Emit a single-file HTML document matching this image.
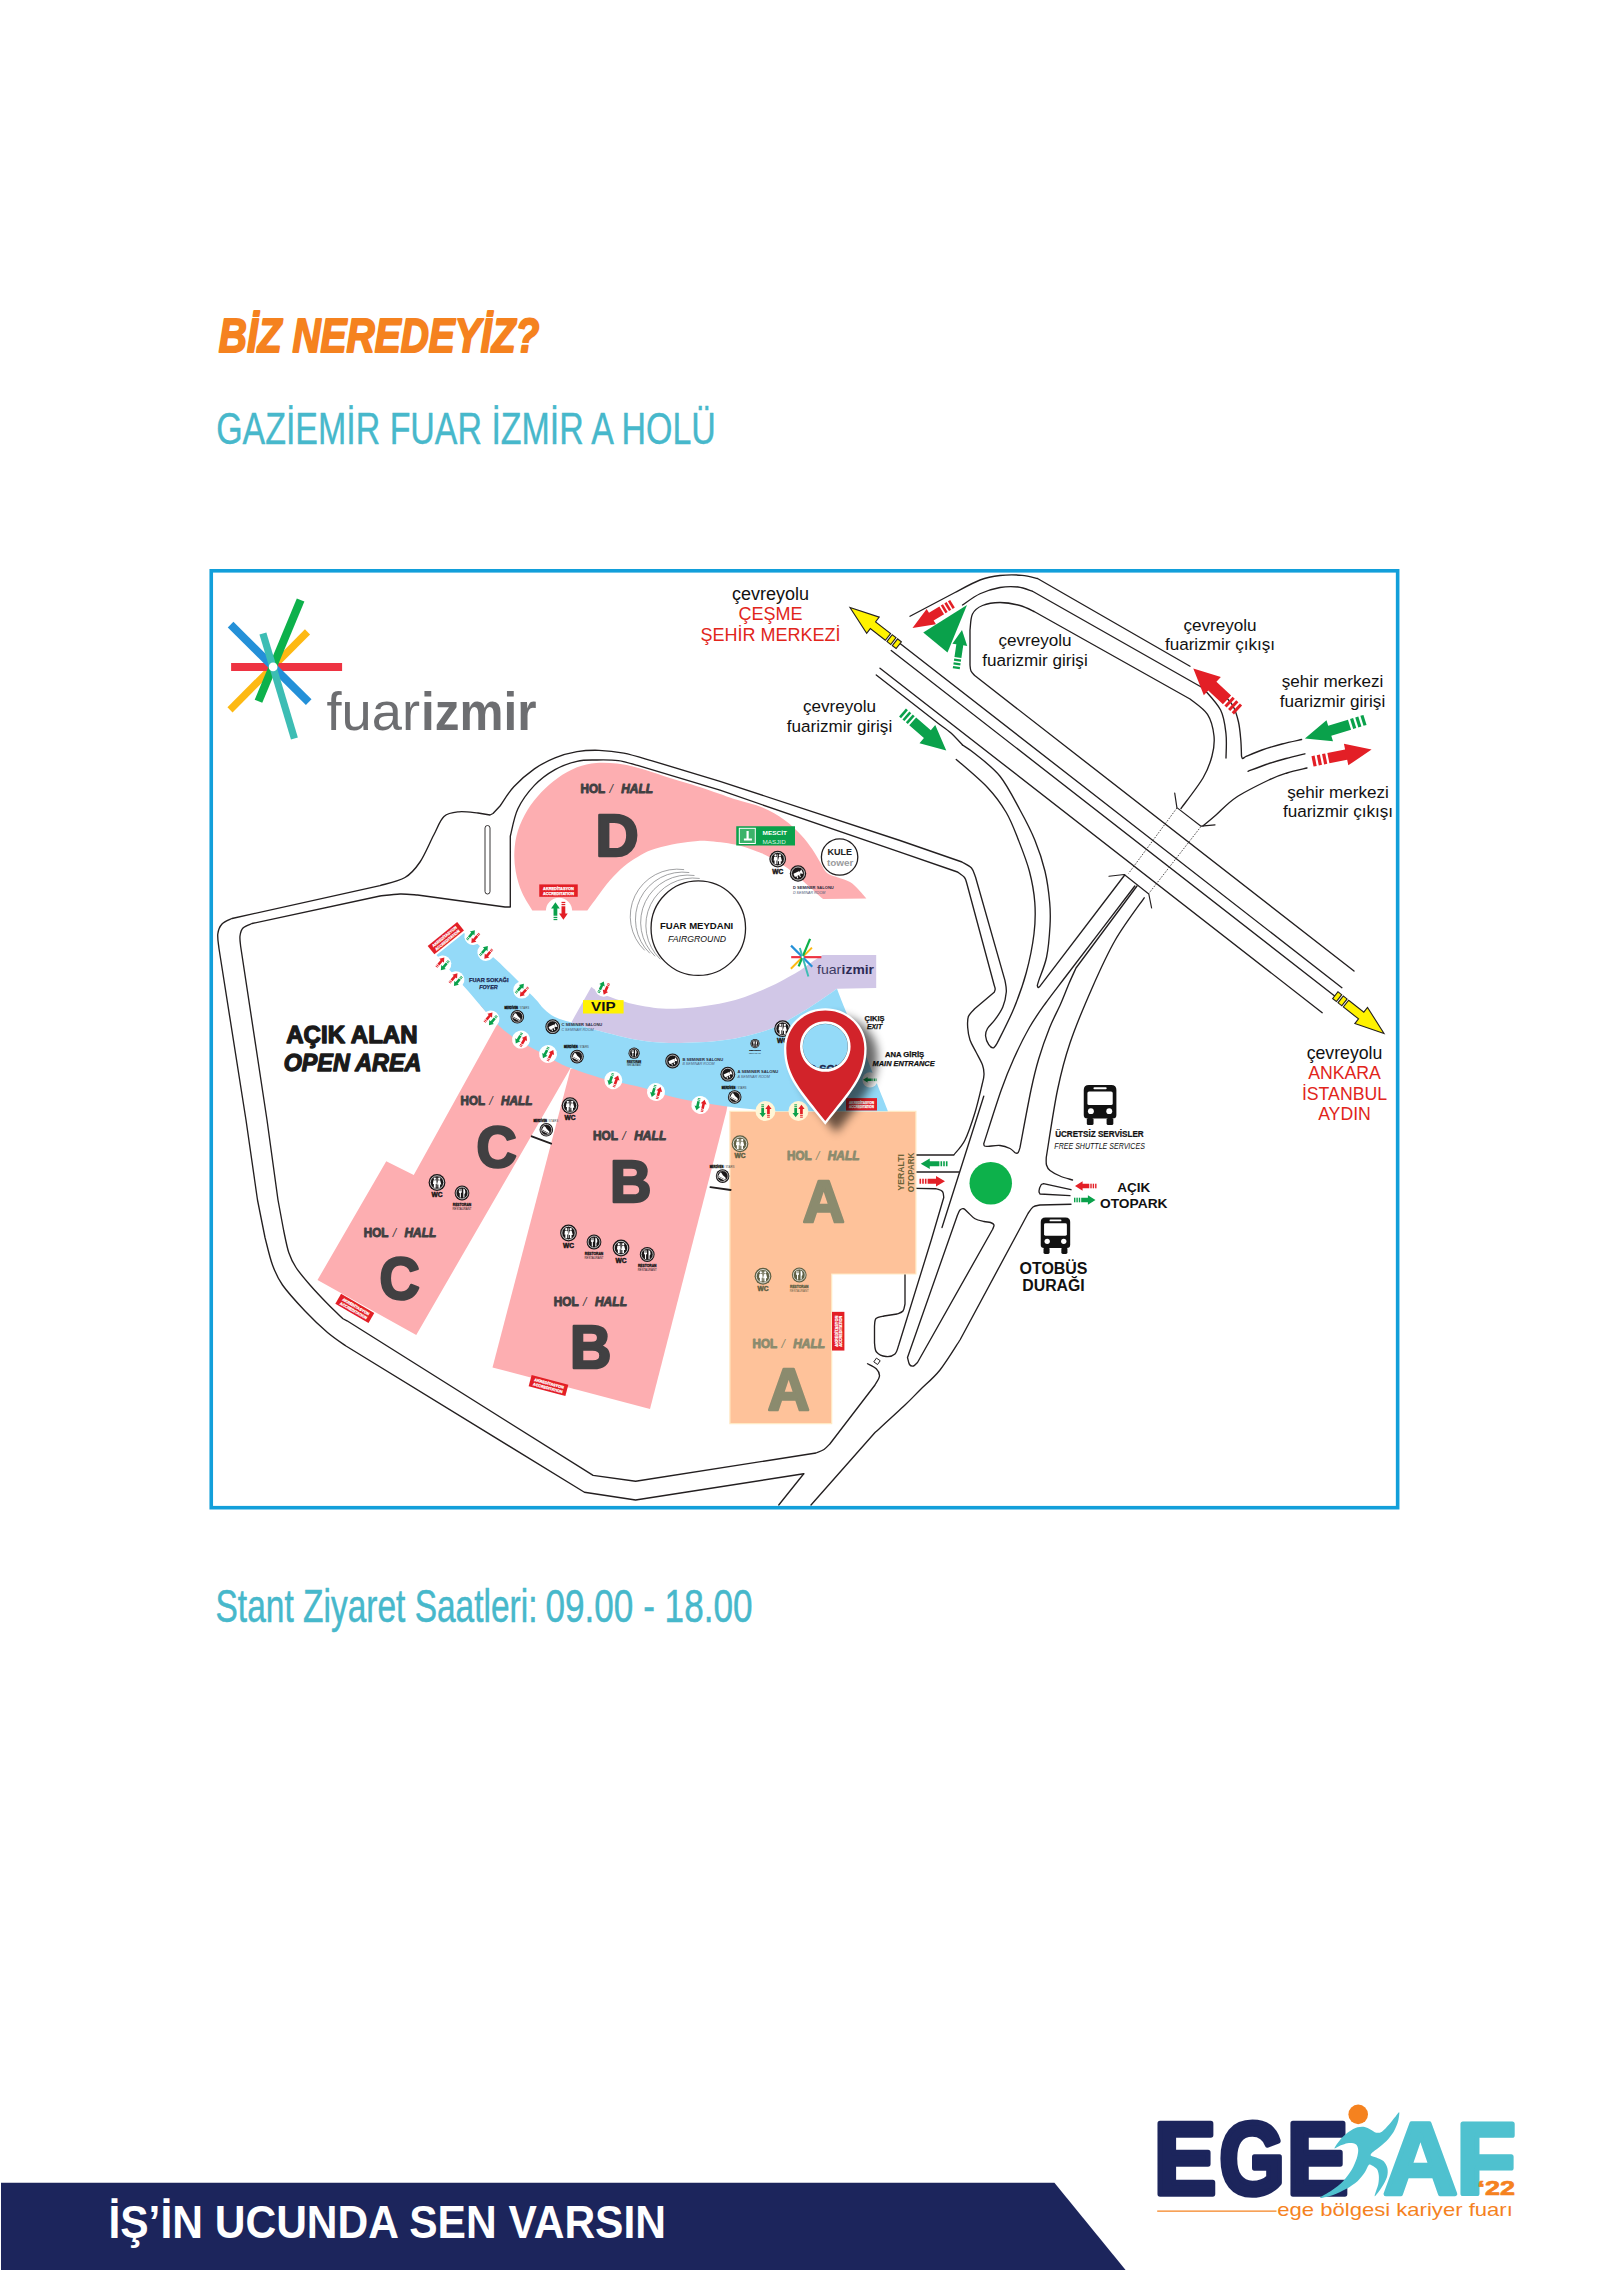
<!DOCTYPE html>
<html lang="tr"><head><meta charset="utf-8"><title>Biz Neredeyiz? - EGEKAF'22</title>
<style>
html,body{margin:0;padding:0;background:#fff;}
body{width:1600px;height:2270px;overflow:hidden;position:relative;font-family:"Liberation Sans",sans-serif;}
svg{position:absolute;left:0;top:0;display:block;}
svg text{font-family:"Liberation Sans",sans-serif;}
</style></head><body>
<svg width="1600" height="2270" viewBox="0 0 1600 2270">
<rect x="0" y="0" width="1600" height="2270" fill="#fff"/>
<text x="218.8" y="352.4" font-size="47.5" fill="#f5821f" font-weight="bold" font-style="italic" textLength="320.5" lengthAdjust="spacingAndGlyphs" stroke="#f5821f" stroke-width="2" stroke-linejoin="round">BİZ NEREDEYİZ?</text>
<text x="216.2" y="444.4" font-size="43.6" fill="#47b8cb" textLength="499.6" lengthAdjust="spacingAndGlyphs" stroke="#47b8cb" stroke-width="0.4" stroke-linejoin="round">GAZİEMİR FUAR İZMİR A HOLÜ</text>
<text x="215.5" y="1622.2" font-size="45.6" fill="#47b8cb" textLength="322" lengthAdjust="spacingAndGlyphs" stroke="#47b8cb" stroke-width="0.5" stroke-linejoin="round">Stant Ziyaret Saatleri:</text>
<text x="545.5" y="1622.2" font-size="45.6" fill="#47b8cb" textLength="207" lengthAdjust="spacingAndGlyphs" stroke="#47b8cb" stroke-width="0.5" stroke-linejoin="round">09.00 - 18.00</text>
<path d="M1 2182.8 L1054.4 2182.8 L1125.6 2270 L1 2270 Z" fill="#1c255c"/>
<text x="108.4" y="2237.5" font-size="45.8" fill="#fff" font-weight="bold" textLength="557.6" lengthAdjust="spacingAndGlyphs">İŞ’İN UCUNDA SEN VARSIN</text>
<g id="egekaf">
<text x="1153.72" y="2194.2" font-size="102.47" fill="#1c255c" font-weight="bold" textLength="62.65" lengthAdjust="spacingAndGlyphs" stroke="#1c255c" stroke-width="5.6" stroke-linejoin="round">E</text>
<text x="1219.14" y="2194.2" font-size="102.4" fill="#1c255c" font-weight="bold" textLength="65.59" lengthAdjust="spacingAndGlyphs" stroke="#1c255c" stroke-width="5.6" stroke-linejoin="round">G</text>
<text x="1286.81" y="2194.2" font-size="102.47" fill="#1c255c" font-weight="bold" textLength="61.7" lengthAdjust="spacingAndGlyphs" stroke="#1c255c" stroke-width="5.6" stroke-linejoin="round">E</text>
<text x="1383.18" y="2193.75" font-size="102.04" fill="#4fc1cf" font-weight="bold" textLength="74.49" lengthAdjust="spacingAndGlyphs" stroke="#4fc1cf" stroke-width="4.5" stroke-linejoin="round">A</text>
<text x="1456.61" y="2193.4" font-size="101.02" fill="#4fc1cf" font-weight="bold" textLength="59.24" lengthAdjust="spacingAndGlyphs" stroke="#4fc1cf" stroke-width="5.2" stroke-linejoin="round">F</text>
<path d="M1334.5 2148.2 C1334.61 2147.12 1339.54 2140.57 1341.7 2138.1 C1343.86 2135.62 1346.53 2133.32 1348.9 2131.7 C1351.27 2130.08 1355.13 2128.02 1357.5 2127.3 C1359.87 2126.58 1362.77 2126.57 1364.7 2126.9 C1366.63 2127.23 1368.68 2128.63 1370.4 2129.5 C1372.12 2130.37 1374.48 2132.37 1376.2 2132.7 C1377.92 2133.03 1379.97 2132.93 1381.9 2131.7 C1383.84 2130.47 1387.15 2126.66 1389.1 2124.5 C1391.05 2122.34 1393.38 2119.15 1394.9 2117.3 C1396.42 2115.45 1398.74 2111.55 1399.2 2112.2 C1399.66 2112.84 1398.83 2118.67 1398 2121.6 C1397.17 2124.53 1395.42 2128.79 1393.7 2131.7 C1391.98 2134.61 1388.81 2138.57 1386.5 2141 C1384.19 2143.43 1380.38 2146.22 1378.3 2147.9 C1376.21 2149.58 1373.74 2151.07 1372.6 2152.2 C1371.46 2153.32 1370.16 2154.61 1370.7 2155.4 C1371.24 2156.2 1374.3 2156.64 1376.2 2157.5 C1378.11 2158.36 1381.72 2159.48 1383.4 2161.1 C1385.08 2162.72 1386.86 2165.93 1387.4 2168.3 C1387.94 2170.67 1387.83 2174.1 1387 2176.9 C1386.17 2179.7 1383.75 2184.09 1381.9 2187 C1380.06 2189.91 1375.24 2196.74 1374.7 2196.3 C1374.16 2195.87 1377.68 2187.22 1378.3 2184.1 C1378.91 2180.98 1379.01 2177.76 1378.8 2175.5 C1378.59 2173.24 1377.94 2170.51 1376.9 2169 C1375.87 2167.49 1373.13 2166 1371.9 2165.4 C1370.67 2164.8 1369.78 2163.92 1368.7 2165 C1367.62 2166.08 1366.38 2170.17 1364.7 2172.6 C1363.02 2175.03 1360.31 2178.72 1357.5 2181.2 C1354.69 2183.67 1349.66 2187.05 1346 2189.1 C1342.34 2191.15 1336.98 2193.6 1333.1 2194.9 C1329.21 2196.2 1320.32 2198.45 1320.1 2197.8 C1319.88 2197.16 1328.15 2193.09 1331.6 2190.6 C1335.05 2188.11 1340.08 2184.34 1343.1 2181.2 C1346.12 2178.06 1349.64 2173.15 1351.7 2169.7 C1353.76 2166.25 1355.83 2161.11 1356.8 2158.2 C1357.77 2155.29 1358.2 2152.24 1358.2 2150.3 C1358.2 2148.37 1357.55 2146.37 1356.8 2145.3 C1356.05 2144.24 1354.61 2143.51 1353.2 2143.2 C1351.79 2142.88 1349.23 2142.88 1347.4 2143.2 C1345.57 2143.51 1342.93 2144.55 1341 2145.3 C1339.07 2146.05 1334.39 2149.28 1334.5 2148.2 Z" fill="#4fc1cf"/>
<circle cx="1358.2" cy="2114.4" r="9.8" fill="#f5821f"/>
<text x="1477.6" y="2195.2" font-size="20.4" fill="#f5821f" font-weight="bold" textLength="37.5" lengthAdjust="spacingAndGlyphs" stroke="#f5821f" stroke-width="0.7" stroke-linejoin="round">‘22</text>
<path d="M1157.2 2211.1 H1276.5" stroke="#f5821f" stroke-width="1.2" fill="none"/>
<text x="1277.3" y="2215.7" font-size="17.8" fill="#f5821f" textLength="235.5" lengthAdjust="spacingAndGlyphs">ege bölgesi kariyer fuarı</text>
</g>
<g id="map">
<g id="roads">
<path d="M803.75 1473.75 L635.6 1500 L584.4 1492.25 L346 1346 L346 1346 C342.92 1343.75 334.33 1338.33 327.5 1332.5 C320.67 1326.67 312.5 1318.92 305 1311 C297.5 1303.08 287.92 1292.67 282.5 1285 C277.08 1277.33 275.42 1272.92 272.5 1265 C269.58 1257.08 266.25 1242.08 265 1237.5 L265 1237.5 L257.5 1200 L246 1120 L218.9 948 L218.9 948 C218.72 945.67 217.28 938 217.8 934 C218.32 930 219.63 926.58 222 924 C224.37 921.42 230.33 919.42 232 918.5 L232 918.5 L380 885.6 L380 885.6 C384.17 884.25 398.33 881.43 405 877.5 C411.67 873.57 415.21 869.08 420 862 C424.79 854.92 429.75 842.58 433.75 835 C437.75 827.42 439.79 820.37 444 816.5 C448.21 812.63 453.33 812.38 459 811.8 C464.67 811.22 474.83 812.8 478 813 L478 813 L490 815 L493 813.5 L500 806 L500 806 C502.3 802.8 508.07 792.98 513.8 786.8 C519.53 780.62 527.53 773.72 534.4 768.9 C541.27 764.08 547.9 760.77 555 757.9 C562.1 755.03 569.67 752.97 577 751.7 C584.33 750.43 591.2 750.07 599 750.3 C606.8 750.53 615.08 751.38 623.8 753.1 C632.52 754.82 646.72 759.35 651.3 760.6 L651.3 760.6 L720 781.3 L900 840.5 L962 862 L962 862 C963.58 863 969.25 865.5 971.5 868 C973.75 870.5 974.83 875.5 975.5 877 L975.5 877 L1005 980.6 L1005 980.6 C1005.22 982.5 1006.67 987.6 1006.3 992 C1005.93 996.4 1004.68 1002.38 1002.8 1007 C1000.92 1011.62 997.55 1016.12 995 1019.7 C992.45 1023.28 989.07 1025.78 987.5 1028.5 C985.93 1031.22 985.39 1033.3 985.6 1036 C985.81 1038.7 987.45 1042.73 988.75 1044.7 C990.05 1046.67 991.98 1048.08 993.4 1047.8 C994.82 1047.52 996.65 1043.8 997.3 1043 L997.3 1043 C1000.04 1037.29 1008.92 1020.45 1013.75 1008.75 C1018.58 997.05 1022.88 985.3 1026.25 972.8 C1029.62 960.3 1032.58 945.47 1034 933.75 C1035.42 922.03 1035.57 912.92 1034.8 902.5 C1034.03 892.08 1032.13 881.67 1029.4 871.25 C1026.67 860.83 1022.26 849.79 1018.4 840 C1014.54 830.21 1011.4 821.25 1006.25 812.5 C1001.1 803.75 995.83 796.35 987.5 787.5 C979.17 778.65 961.46 764.08 956.25 759.4" fill="none" stroke="#231f20" stroke-width="1.35" stroke-linejoin="round" stroke-linecap="round" />
<path d="M803.75 1473.75 L778.75 1505" fill="none" stroke="#231f20" stroke-width="1.35" stroke-linejoin="round" stroke-linecap="round" />
<path d="M916.25 1155 L953.75 1155 L953.75 1155 C955.62 1152.5 961.46 1147.08 965 1140 C968.54 1132.92 972.17 1121.67 975 1112.5 C977.83 1103.33 980.5 1091.35 982 1085 C983.5 1078.65 983.92 1077.73 984 1074.4 C984.08 1071.07 983.83 1068.73 982.5 1065 C981.17 1061.27 978.08 1056.17 976 1052 C973.92 1047.83 971.38 1044.08 970 1040 C968.62 1035.92 967.97 1031.42 967.7 1027.5 C967.43 1023.58 967.23 1019.62 968.4 1016.5 C969.57 1013.38 973.65 1010.04 974.7 1008.75 L974.7 1008.75 L994.2 992.3 L994.2 992.3 C994.37 991.75 995.2 990.17 995.2 989 C995.2 987.83 994.37 985.92 994.2 985.3 L994.2 985.3 L966.9 883.75 L966.9 883.75 C966.5 882.71 966.07 879.46 964.5 877.5 C962.93 875.54 958.67 872.92 957.5 872 L957.5 872 L900 852.2 L720 790.2 L637.6 765.4 L637.6 765.4 C634.38 764.6 625.18 761.5 618.3 760.6 C611.42 759.7 603.18 759.88 596.3 760 C589.42 760.12 583.88 759.7 577 761.3 C570.12 762.9 562.1 765.58 555 769.6 C547.9 773.62 540.58 778.87 534.4 785.4 C528.22 791.93 521.92 800.32 517.9 808.8 C513.88 817.28 511.57 831.72 510.3 836.3 L510.3 836.3 L510.3 907 L505 907 L417.5 895 L417.5 895 C414.58 894.83 406.25 893.83 400 894 C393.75 894.17 383.33 895.67 380 896 L380 896 L252 923.5 L252 923.5 C250.5 924.25 245 925.92 243 928 C241 930.08 240.4 933 240 936 C239.6 939 240.5 944.33 240.6 946 L240.6 946 L267 1120 L278 1200 L283.75 1231 L283.75 1231 C284.58 1234.58 286.71 1246.42 288.75 1252.5 C290.79 1258.58 292.46 1262.08 296 1267.5 C299.54 1272.92 304.75 1278.96 310 1285 C315.25 1291.04 322 1298.12 327.5 1303.75 C333 1309.38 340.42 1316.25 343 1318.75 L343 1318.75 L347 1320.8 L593.1 1475.4 L635.6 1481.25 L816 1453 L816 1453 C817.33 1452.42 821.67 1451.04 824 1449.5 C826.33 1447.96 829 1444.71 830 1443.75 L830 1443.75 L875 1385 L875 1385 C875.75 1383.5 879.29 1378.71 879.5 1376 C879.71 1373.29 878.25 1370.79 876.25 1368.75 C874.25 1366.71 868.96 1364.58 867.5 1363.75" fill="none" stroke="#231f20" stroke-width="1.35" stroke-linejoin="round" stroke-linecap="round" />
<rect x="485" y="825.5" width="5" height="68.5" rx="2.5" fill="none" stroke="#231f20" stroke-width="0.9"/>
<rect x="-2.3" y="-2.3" width="4.6" height="4.6" transform="translate(877 1361.3) rotate(35)" fill="none" stroke="#231f20" stroke-width="0.9"/>
<path d="M916.25 1172 L958.75 1172" fill="none" stroke="#231f20" stroke-width="1.35" stroke-linejoin="round" stroke-linecap="round" />
<path d="M916.25 1188.3 L936.25 1188.75 L936.25 1188.75 C937.29 1189.21 941.25 1190.04 942.5 1191.5 C943.75 1192.96 943.54 1196.5 943.75 1197.5 L943.75 1197.5 L931.25 1240 L898.75 1345 L898.75 1345 C898.12 1346.5 897.12 1352.08 895 1354 C892.88 1355.92 889.08 1356.83 886 1356.5 C882.92 1356.17 878.42 1354.25 876.5 1352 C874.58 1349.75 874.83 1344.5 874.5 1343 L874.5 1343 L874.5 1326 L874.5 1326 C874.75 1324.75 874.42 1320.17 876 1318.5 C877.58 1316.83 882.67 1316.42 884 1316 L884 1316 L897 1314 L897 1314 C898 1313.5 901.67 1312.67 903 1311 C904.33 1309.33 904.67 1305.17 905 1304 L905 1304 L905 1273.5" fill="none" stroke="#231f20" stroke-width="1.35" stroke-linejoin="round" stroke-linecap="round" />
<path d="M983.75 1096.25 L942 1227.5" fill="none" stroke="#231f20" stroke-width="1.35" stroke-linejoin="round" stroke-linecap="round" />
<path d="M957.5 1215 C957.92 1214.17 958.96 1211.04 960 1210 C961.04 1208.96 962.42 1208.33 963.75 1208.75 C965.08 1209.17 966.12 1210.83 968 1212.5 C969.88 1214.17 972.33 1217.25 975 1218.75 C977.67 1220.25 981.42 1220.88 984 1221.5 C986.58 1222.12 988.83 1221.92 990.5 1222.5 C992.17 1223.08 993.67 1223.83 994 1225 C994.33 1226.17 992.75 1228.75 992.5 1229.5 L992.5 1229.5 L917.5 1362.5 L917.5 1362.5 C916.83 1363.08 914.83 1365.67 913.5 1366 C912.17 1366.33 910.5 1365.92 909.5 1364.5 C908.5 1363.08 907.83 1358.67 907.5 1357.5 L907.5 1357.5 L957.5 1215" fill="none" stroke="#231f20" stroke-width="1.35" stroke-linejoin="round" stroke-linecap="round" />
<path d="M1134.8 886 C1123.73 900.5 1083.37 953.33 1068.4 973 C1053.43 992.67 1051.5 994.92 1045 1004 C1038.5 1013.08 1034.61 1018.38 1029.4 1027.5 C1024.19 1036.62 1018.44 1048.33 1013.75 1058.75 C1009.06 1069.17 1006.25 1075.83 1001.25 1090 C996.25 1104.17 986.67 1134.79 983.75 1143.75 L983.75 1143.75 C983.88 1144.12 983.79 1145.58 984.5 1146 C985.21 1146.42 985.42 1146.38 988 1146.3 C990.58 1146.22 996.33 1145.13 1000 1145.5 C1003.67 1145.87 1007.42 1147.25 1010 1148.5 C1012.58 1149.75 1014.13 1152.33 1015.5 1153 C1016.87 1153.67 1017.45 1153.42 1018.2 1152.5 C1018.95 1151.58 1019.7 1148.33 1020 1147.5 L1020 1147.5 C1021.83 1137.92 1027.88 1104.79 1031 1090 C1034.12 1075.21 1035.63 1069.17 1038.75 1058.75 C1041.87 1048.33 1046.06 1036.62 1049.7 1027.5 C1053.34 1018.38 1057.38 1011.33 1060.6 1004 C1063.82 996.67 1066.43 989.5 1069 983.5 C1071.57 977.5 1074.83 970.58 1076 968 L1076 968 L1137 886" fill="none" stroke="#231f20" stroke-width="1.35" stroke-linejoin="round" stroke-linecap="round" />
<path d="M1144.2 897.8 C1139.38 904.83 1124.02 924.9 1115.3 940 C1106.58 955.1 1099.45 971.23 1091.9 988.4 C1084.35 1005.57 1075.73 1026.07 1070 1043 C1064.27 1059.93 1061.46 1070.92 1057.5 1090 C1053.54 1109.08 1048.12 1146.25 1046.25 1157.5 L1046.25 1157.5 C1046.29 1158.75 1045.88 1162.83 1046.5 1165 C1047.12 1167.17 1047.75 1168.67 1050 1170.5 C1052.25 1172.33 1056.25 1174.42 1060 1176 C1063.75 1177.58 1070.42 1179.33 1072.5 1180" fill="none" stroke="#231f20" stroke-width="1.35" stroke-linejoin="round" stroke-linecap="round" />
<path d="M1071 1189.7 L1043.5 1183.7 L1043.5 1183.7 C1043.08 1183.92 1041.75 1183.78 1041 1185 C1040.25 1186.22 1039.17 1189.5 1039 1191 C1038.83 1192.5 1039.83 1193.5 1040 1194 L1040 1194 L1070 1195.6" fill="none" stroke="#231f20" stroke-width="1.35" stroke-linejoin="round" stroke-linecap="round" />
<path d="M1071 1204.25 L1040 1205 L1040 1205 C1038.83 1205.33 1035 1205.58 1033 1207 C1031 1208.42 1028.83 1212.42 1028 1213.5 L1028 1213.5 L960 1340 L960 1340 C956.67 1345 946.67 1361.67 940 1370 C933.33 1378.33 925.83 1384.17 920 1390 C914.17 1395.83 912.5 1397.92 905 1405 C897.5 1412.08 880 1427.92 875 1432.5 L875 1432.5 L811 1505" fill="none" stroke="#231f20" stroke-width="1.35" stroke-linejoin="round" stroke-linecap="round" />
<path d="M962.5 745 C964.58 746.46 968.75 748.54 975 753.75 C981.25 758.96 992.5 766.88 1000 776.25 C1007.5 785.62 1014.2 799.38 1020 810 C1025.8 820.62 1030.63 829.79 1034.8 840 C1038.97 850.21 1042.52 860.83 1045 871.25 C1047.48 881.67 1048.87 893.38 1049.7 902.5 C1050.53 911.62 1050.52 916.92 1050 926 C1049.48 935.08 1048.47 947.9 1046.6 957 C1044.72 966.1 1040.3 975.85 1038.75 980.6 C1037.2 985.35 1037.54 984.68 1037.3 985.5 L1037.3 985.5 C1037.45 985.85 1037.75 987.48 1038.2 987.6 C1038.65 987.72 1039.7 986.43 1040 986.2 L1040 986.2 L1124.7 875" fill="none" stroke="#231f20" stroke-width="1.35" stroke-linejoin="round" stroke-linecap="round" />
<path d="M898.75 642.5 L1341.9 987.71" fill="none" stroke="#231f20" stroke-width="1.35" stroke-linejoin="round" stroke-linecap="round" />
<path d="M891.25 650.5 L1335.3 996.41" fill="none" stroke="#231f20" stroke-width="1.35" stroke-linejoin="round" stroke-linecap="round" />
<path d="M880 668.2 L1322.2 1012.67" fill="none" stroke="#231f20" stroke-width="1.35" stroke-linejoin="round" stroke-linecap="round" />
<path d="M876.25 675 L940 724.7 L940 724.7 C941.83 726.08 947.25 729.62 951 733 C954.75 736.38 960.58 743 962.5 745" fill="none" stroke="#231f20" stroke-width="1.35" stroke-linejoin="round" stroke-linecap="round" />
<path d="M1354 971 L975 675.8 L975 675.8 C974.33 675 971.83 672.8 971 671 C970.17 669.2 970.17 666 970 665 L970 665 L970 630 L970 630 C970.42 627.33 970.42 618.08 972.5 614 C974.58 609.92 977.92 607.42 982.5 605.5 C987.08 603.58 993.75 602.5 1000 602.5 C1006.25 602.5 1014.17 603.92 1020 605.5 C1025.83 607.08 1032.5 610.92 1035 612 L1035 612 L1190 699 L1190 699 C1192.92 701.57 1203.5 708.23 1207.5 714.4 C1211.5 720.57 1213.25 729.07 1214 736 C1214.75 742.93 1213.83 749 1212 756 C1210.17 763 1208.17 769.25 1203 778 C1197.83 786.75 1184.67 803.42 1181 808.5" fill="none" stroke="#231f20" stroke-width="1.35" stroke-linejoin="round" stroke-linecap="round" />
<path d="M962.5 605 C965.42 603.12 973.75 596.67 980 593.75 C986.25 590.83 993.67 588.62 1000 587.5 C1006.33 586.38 1012.58 586.38 1018 587 C1023.42 587.62 1030.08 590.54 1032.5 591.25 L1032.5 591.25 L1203 688 L1203 688 C1205.93 691.67 1216.77 702.33 1220.6 710 C1224.43 717.67 1225.1 726 1226 734 C1226.9 742 1226 754 1226 758" fill="none" stroke="#231f20" stroke-width="1.35" stroke-linejoin="round" stroke-linecap="round" />
<path d="M910 616.25 L955 592.5 L955 592.5 C959.17 590.42 972.5 582.83 980 580 C987.5 577.17 993 576.28 1000 575.5 C1007 574.72 1015.75 574.8 1022 575.3 C1028.25 575.8 1034.92 577.97 1037.5 578.5 L1037.5 578.5 L1190 666.25" fill="none" stroke="#231f20" stroke-width="1.35" stroke-linejoin="round" stroke-linecap="round" />
<path d="M1224 695 C1225.5 696.83 1230.58 701.5 1233 706 C1235.42 710.5 1237.2 716.33 1238.5 722 C1239.8 727.67 1240.3 734.33 1240.8 740 C1241.3 745.67 1241.38 753.33 1241.5 756 L1241.5 756 C1241.67 756.42 1241.92 758.33 1242.5 758.5 C1243.08 758.67 1244.58 757.25 1245 757 L1245 757 C1247.83 755.83 1255.83 752.17 1262 750 C1268.17 747.83 1275.4 745.75 1282 744 C1288.6 742.25 1298.33 740.25 1301.6 739.5" fill="none" stroke="#231f20" stroke-width="1.35" stroke-linejoin="round" stroke-linecap="round" />
<path d="M1248 771.3 C1251 770.17 1259.67 766.63 1266 764.5 C1272.33 762.37 1279.52 760.28 1286 758.5 C1292.48 756.72 1301.75 754.58 1304.9 753.8" fill="none" stroke="#231f20" stroke-width="1.35" stroke-linejoin="round" stroke-linecap="round" />
<path d="M1307 768 C1303.67 768.83 1293.37 771 1287 773 C1280.63 775 1277.3 775.92 1268.8 780 C1260.3 784.08 1244.8 791.67 1236 797.5 C1227.2 803.33 1221.5 810.25 1216 815 C1210.5 819.75 1205.17 824.17 1203 826" fill="none" stroke="#231f20" stroke-width="1.35" stroke-linejoin="round" stroke-linecap="round" />
<path d="M1174.7 793 L1176.9 807.6 L1201 826.2 L1215 824.9" fill="none" stroke="#231f20" stroke-width="1.2" stroke-linejoin="round" stroke-linecap="round" />
<path d="M1109 876.25 L1124.2 874.5 L1148.8 894 L1151.6 908" fill="none" stroke="#231f20" stroke-width="1.2" stroke-linejoin="round" stroke-linecap="round" />
<path d="M1176.9 808 L1128.5 873.5 M1201 826.5 L1148.8 893.5" fill="none" stroke="#231f20" stroke-width="0.8" stroke-dasharray="1.6 1.4"/>
</g>
<g id="halls">
<path d="M587.3 910.5 L532.3 910.5 L532.3 910.5 C530.58 907.52 524.75 899.02 522 892.6 C519.25 886.18 517.07 878.87 515.8 872 C514.53 865.13 514.05 858.27 514.4 851.4 C514.75 844.53 515.72 837.68 517.9 830.8 C520.08 823.92 523.6 816.52 527.5 810.1 C531.4 803.68 536.25 797.67 541.3 792.3 C546.35 786.93 551.85 782.08 557.8 777.9 C563.75 773.72 570.58 769.7 577 767.2 C583.42 764.7 589.63 763.5 596.3 762.9 C602.97 762.3 610.12 762.78 617 763.6 C623.88 764.42 629.58 765.67 637.6 767.8 C645.62 769.93 655.93 773.57 665.1 776.4 C674.27 779.23 683.45 781.87 692.6 784.8 C701.75 787.73 712.93 791.58 720 794 C727.07 796.42 727.92 797.05 735 799.3 C742.08 801.55 754.25 804.05 762.5 807.5 C770.75 810.95 778.08 815.42 784.5 820 C790.92 824.58 796.42 830.2 801 835 C805.58 839.8 808.83 844.3 812 848.8 C815.17 853.3 817.5 857.97 820 862 C822.5 866.03 824 870.42 827 873 C830 875.58 834.17 876 838 877.5 C841.83 879 846.67 880.08 850 882 C853.33 883.92 855.27 886.23 858 889 C860.73 891.77 865 897 866.4 898.6 L866.4 898.6 L823 899 L823 899 C822.08 898.2 820.7 897.07 817.5 894.2 C814.3 891.33 808.83 886.17 803.8 881.8 C798.77 877.43 793.03 872.13 787.3 868 C781.57 863.87 774.45 859.75 769.4 857 C764.35 854.25 762.73 853.57 757 851.5 C751.27 849.43 743.25 846.35 735 844.6 C726.75 842.85 714.57 841.52 707.5 841 C700.43 840.48 698.52 840.92 692.6 841.5 C686.68 842.08 678.88 843.08 672 844.5 C665.12 845.92 657.03 847.93 651.3 850 C645.57 852.07 642.18 854.15 637.6 856.9 C633.02 859.65 628.4 862.6 623.8 866.5 C619.2 870.4 614.58 875.02 610 880.3 C605.42 885.58 600.08 893.17 596.3 898.2 C592.52 903.23 588.8 908.45 587.3 910.5 Z" fill="#fdaeb1"/>
<circle cx="559" cy="911" r="13.2" fill="#fff"/>
<path d="M480 1005 L580 1050 L570.5 1068 L416.25 1335 L317.5 1280 L386.25 1161.25 L413.75 1175 L497 1024.5 Z" fill="#fdaeb1"/>
<path d="M570.6 1069 L600 1060 L730 1090 L726.5 1111 L650 1409 L492.5 1367.5 Z" fill="#fdaeb1"/>
<path d="M729.9 1111.4 L915.9 1111.4 L915.9 1274 L831.7 1274 L831.7 1423.6 L729.9 1423.6 Z" fill="#fec29a" stroke="#ffe9c4" stroke-width="1.2"/>
<path d="M571.3 1022.4 L591.25 987 L591.25 987 C593.54 988.33 597.29 992 605 995 C612.71 998 625.83 1002.71 637.5 1005 C649.17 1007.29 660.42 1009.17 675 1008.75 C689.58 1008.33 710.42 1005.62 725 1002.5 C739.58 999.38 750.83 994.83 762.5 990 C774.17 985.17 786.75 978.17 795 973.5 C803.25 968.83 807.42 965.08 812 962 C816.58 958.92 820.75 956.17 822.5 955 L822.5 955 L876.2 955 L876.2 988 L837 988.8 L837 988.8 C833.67 991.08 824 997.92 817 1002.5 C810 1007.08 803.25 1011.72 795 1016.3 C786.75 1020.88 779.17 1026.05 767.5 1030 C755.83 1033.95 740.42 1037.83 725 1040 C709.58 1042.17 689.17 1042.95 675 1043 C660.83 1043.05 652.7 1042.35 640 1040.3 C627.3 1038.25 610.25 1033.68 598.8 1030.7 C587.35 1027.72 575.88 1023.78 571.3 1022.4 Z" fill="#d1c7e7"/>
<circle cx="603.6" cy="988" r="8.2" fill="#fff"/>
<path d="M436.5 955 L464 933 L464 933 C469.5 937.58 485.53 949.95 497 960.5 C508.47 971.05 525 988.27 532.8 996.3 C540.6 1004.33 540.13 1005.27 543.8 1008.7 C547.47 1012.13 550.22 1014.62 554.8 1016.9 C559.38 1019.18 568.55 1021.48 571.3 1022.4 L571.3 1022.4 C575.88 1023.78 587.35 1027.72 598.8 1030.7 C610.25 1033.68 627.3 1038.25 640 1040.3 C652.7 1042.35 660.83 1043.05 675 1043 C689.17 1042.95 709.58 1042.17 725 1040 C740.42 1037.83 755.83 1033.95 767.5 1030 C779.17 1026.05 786.75 1020.88 795 1016.3 C803.25 1011.72 810 1007.08 817 1002.5 C824 997.92 833.67 991.08 837 988.8 L837 988.8 C838.25 992 841.67 1001.13 844.5 1008 C847.33 1014.87 850.78 1022.88 854 1030 C857.22 1037.12 860.33 1042.67 863.8 1050.7 C867.27 1058.73 871.6 1070.18 874.8 1078.2 C878 1086.22 880.82 1093.3 883 1098.8 C885.18 1104.3 887.08 1109.13 887.9 1111.2 L887.9 1111.2 L775 1111.2 L775 1111.2 C766.67 1110.38 741.67 1108.53 725 1106.25 C708.33 1103.97 689.17 1100.71 675 1097.5 C660.83 1094.29 652.7 1090.35 640 1087 C627.3 1083.65 610.47 1080.6 598.8 1077.4 C587.13 1074.2 576.87 1070.32 570 1067.8 C563.13 1065.28 562.43 1064.82 557.6 1062.3 C552.77 1059.78 547.88 1056.6 541 1052.7 C534.12 1048.8 523.63 1043.72 516.3 1038.9 C508.97 1034.08 505.48 1032.28 497 1023.8 C488.52 1015.32 475.48 999.47 465.4 988 C455.32 976.53 441.32 960.5 436.5 955 Z" fill="#94daf8"/>
<path d="M699.68 878.46 A47.25 47.25 0 0 0 660.28 959.24" fill="none" stroke="#77787b" stroke-width="0.7"/>
<path d="M694.48 875.51 A47.25 47.25 0 0 0 655.08 956.29" fill="none" stroke="#77787b" stroke-width="0.7"/>
<path d="M689.28 872.56 A47.25 47.25 0 0 0 649.88 953.34" fill="none" stroke="#77787b" stroke-width="0.7"/>
<path d="M684.08 869.61 A47.25 47.25 0 0 0 644.68 950.39" fill="none" stroke="#77787b" stroke-width="0.7"/>
<circle cx="698.3" cy="928.2" r="47.25" fill="#fff" stroke="#231f20" stroke-width="1.3"/>
<circle cx="839.6" cy="857" r="18.2" fill="#fff" stroke="#231f20" stroke-width="1.3"/>
<circle cx="990.75" cy="1183.25" r="21.25" fill="#0db14b"/>
</g>
<g id="labels">
<line x1="307.5" y1="631.9" x2="230" y2="709.9" stroke="#fdb913" stroke-width="7.2"/>
<line x1="231.1" y1="667.1" x2="342.1" y2="667.1" stroke="#ee3342" stroke-width="8"/>
<line x1="230.6" y1="624.7" x2="308.7" y2="702.2" stroke="#2490d8" stroke-width="8"/>
<line x1="300.6" y1="600" x2="258.5" y2="701.2" stroke="#0db14b" stroke-width="8.2"/>
<line x1="262.9" y1="633.5" x2="294.4" y2="738.5" stroke="#3dbdb4" stroke-width="7.2"/>
<circle cx="273.1" cy="666.9" r="4.4" fill="#fff"/>
<text x="326.5" y="730.3" font-size="53" fill="#6d6e71" textLength="93.5" lengthAdjust="spacingAndGlyphs">fuar</text>
<text x="421" y="730.3" font-size="53" fill="#6d6e71" font-weight="bold" textLength="115.5" lengthAdjust="spacingAndGlyphs">izmir</text>
<text x="595.61" y="855.6" font-size="59.16" fill="#414042" font-weight="bold" textLength="43.1" lengthAdjust="spacingAndGlyphs" stroke="#414042" stroke-width="2.6" stroke-linejoin="round">D</text>
<text x="476.52" y="1166.64" font-size="57.77" fill="#414042" font-weight="bold" textLength="40.21" lengthAdjust="spacingAndGlyphs" stroke="#414042" stroke-width="2.6" stroke-linejoin="round">C</text>
<text x="379.52" y="1299.37" font-size="59.89" fill="#414042" font-weight="bold" textLength="40.21" lengthAdjust="spacingAndGlyphs" stroke="#414042" stroke-width="2.6" stroke-linejoin="round">C</text>
<text x="609.97" y="1202.45" font-size="59.81" fill="#414042" font-weight="bold" textLength="41.33" lengthAdjust="spacingAndGlyphs" stroke="#414042" stroke-width="2.6" stroke-linejoin="round">B</text>
<text x="569.97" y="1368.2" font-size="60.9" fill="#414042" font-weight="bold" textLength="41.33" lengthAdjust="spacingAndGlyphs" stroke="#414042" stroke-width="2.6" stroke-linejoin="round">B</text>
<text x="802.86" y="1222.45" font-size="59.81" fill="#8b8b6e" font-weight="bold" textLength="41.87" lengthAdjust="spacingAndGlyphs" stroke="#8b8b6e" stroke-width="2.6" stroke-linejoin="round">A</text>
<text x="767.86" y="1409.7" font-size="59.45" fill="#8b8b6e" font-weight="bold" textLength="41.87" lengthAdjust="spacingAndGlyphs" stroke="#8b8b6e" stroke-width="2.6" stroke-linejoin="round">A</text>
<text x="580.5" y="793" font-size="12.2" fill="#414042" font-weight="bold" textLength="24.65" lengthAdjust="spacingAndGlyphs" stroke="#414042" stroke-width="0.9" stroke-linejoin="round">HOL</text>
<text x="609.5" y="793" font-size="12.2" fill="#414042" font-style="italic">/</text>
<text x="621.25" y="793" font-size="12.2" fill="#414042" font-weight="bold" font-style="italic" textLength="31.75" lengthAdjust="spacingAndGlyphs" stroke="#414042" stroke-width="0.9" stroke-linejoin="round">HALL</text>
<text x="460.6" y="1104.5" font-size="12.2" fill="#414042" font-weight="bold" textLength="24.41" lengthAdjust="spacingAndGlyphs" stroke="#414042" stroke-width="0.9" stroke-linejoin="round">HOL</text>
<text x="489.32" y="1104.5" font-size="12.2" fill="#414042" font-style="italic">/</text>
<text x="500.95" y="1104.5" font-size="12.2" fill="#414042" font-weight="bold" font-style="italic" textLength="31.45" lengthAdjust="spacingAndGlyphs" stroke="#414042" stroke-width="0.9" stroke-linejoin="round">HALL</text>
<text x="363.75" y="1236.5" font-size="12.2" fill="#414042" font-weight="bold" textLength="24.65" lengthAdjust="spacingAndGlyphs" stroke="#414042" stroke-width="0.9" stroke-linejoin="round">HOL</text>
<text x="392.75" y="1236.5" font-size="12.2" fill="#414042" font-style="italic">/</text>
<text x="404.5" y="1236.5" font-size="12.2" fill="#414042" font-weight="bold" font-style="italic" textLength="31.75" lengthAdjust="spacingAndGlyphs" stroke="#414042" stroke-width="0.9" stroke-linejoin="round">HALL</text>
<text x="593" y="1140" font-size="12.2" fill="#414042" font-weight="bold" textLength="24.91" lengthAdjust="spacingAndGlyphs" stroke="#414042" stroke-width="0.9" stroke-linejoin="round">HOL</text>
<text x="622.3" y="1140" font-size="12.2" fill="#414042" font-style="italic">/</text>
<text x="634.17" y="1140" font-size="12.2" fill="#414042" font-weight="bold" font-style="italic" textLength="32.08" lengthAdjust="spacingAndGlyphs" stroke="#414042" stroke-width="0.9" stroke-linejoin="round">HALL</text>
<text x="553.75" y="1305.5" font-size="12.2" fill="#414042" font-weight="bold" textLength="24.91" lengthAdjust="spacingAndGlyphs" stroke="#414042" stroke-width="0.9" stroke-linejoin="round">HOL</text>
<text x="583.05" y="1305.5" font-size="12.2" fill="#414042" font-style="italic">/</text>
<text x="594.92" y="1305.5" font-size="12.2" fill="#414042" font-weight="bold" font-style="italic" textLength="32.08" lengthAdjust="spacingAndGlyphs" stroke="#414042" stroke-width="0.9" stroke-linejoin="round">HALL</text>
<text x="787" y="1160" font-size="12.2" fill="#8b8b6e" font-weight="bold" textLength="24.65" lengthAdjust="spacingAndGlyphs" stroke="#8b8b6e" stroke-width="0.9" stroke-linejoin="round">HOL</text>
<text x="816" y="1160" font-size="12.2" fill="#8b8b6e" font-style="italic">/</text>
<text x="827.75" y="1160" font-size="12.2" fill="#8b8b6e" font-weight="bold" font-style="italic" textLength="31.75" lengthAdjust="spacingAndGlyphs" stroke="#8b8b6e" stroke-width="0.9" stroke-linejoin="round">HALL</text>
<text x="752.5" y="1347.5" font-size="12.2" fill="#8b8b6e" font-weight="bold" textLength="24.65" lengthAdjust="spacingAndGlyphs" stroke="#8b8b6e" stroke-width="0.9" stroke-linejoin="round">HOL</text>
<text x="781.5" y="1347.5" font-size="12.2" fill="#8b8b6e" font-style="italic">/</text>
<text x="793.25" y="1347.5" font-size="12.2" fill="#8b8b6e" font-weight="bold" font-style="italic" textLength="31.75" lengthAdjust="spacingAndGlyphs" stroke="#8b8b6e" stroke-width="0.9" stroke-linejoin="round">HALL</text>
<text x="286.25" y="1042.5" font-size="23.6" fill="#1a1a1a" font-weight="bold" textLength="131.3" lengthAdjust="spacingAndGlyphs" stroke="#1a1a1a" stroke-width="1.3" stroke-linejoin="round">AÇIK ALAN</text>
<text x="283.75" y="1071.25" font-size="23.6" fill="#1a1a1a" font-weight="bold" font-style="italic" textLength="137.5" lengthAdjust="spacingAndGlyphs" stroke="#1a1a1a" stroke-width="1.3" stroke-linejoin="round">OPEN AREA</text>
<text x="660" y="928.7" font-size="9.2" fill="#111" font-weight="bold" textLength="73.2" lengthAdjust="spacingAndGlyphs">FUAR MEYDANI</text>
<text x="668" y="942.2" font-size="9.2" fill="#111" font-style="italic" textLength="58" lengthAdjust="spacingAndGlyphs">FAIRGROUND</text>
<text x="827.5" y="854.5" font-size="9.2" fill="#222" font-weight="bold" textLength="24.5" lengthAdjust="spacingAndGlyphs">KULE</text>
<text x="826.9" y="866" font-size="9.4" fill="#9a9c9e" font-weight="bold" textLength="26.5" lengthAdjust="spacingAndGlyphs">tower</text>
<rect x="736.25" y="826.25" width="58.75" height="19.25" fill="#0aa14b"/>
<rect x="739.3" y="828.3" width="16" height="15.2" fill="#3bb36a" stroke="#fff" stroke-width="1"/>
<path d="M746.5 831 h2.2 v7.5 h3.2 v2 h-8 v-2 h2.6 Z" fill="#fff"/>
<text x="762.5" y="835.3" font-size="5.6" fill="#fff" font-weight="bold" textLength="24.5" lengthAdjust="spacingAndGlyphs">MESCİT</text>
<text x="762.5" y="843.6" font-size="5.6" fill="#d9f0e1" textLength="23.2" lengthAdjust="spacingAndGlyphs">MASJID</text>
<path d="M531.7 1136.3 L551.2 1143.6" fill="none" stroke="#231f20" stroke-width="1.8" stroke-linejoin="round" stroke-linecap="round" />
<path d="M710.4 1187.2 L730.7 1190" fill="none" stroke="#231f20" stroke-width="1.8" stroke-linejoin="round" stroke-linecap="round" />
<circle cx="777.7" cy="859.1" r="8.4" fill="#1a1718"/>
<circle cx="777.7" cy="859.1" r="6.72" fill="none" stroke="#fff" stroke-width="0.76"/>
<g transform="translate(777.7 859.1) scale(1.05)" fill="#fff">
<circle cx="-2.1" cy="-3.6" r="1.1"/><path d="M-3.4 -2.2 h2.6 l0.5 3.6 h-0.9 v3.6 h-1.8 v-3.6 h-0.9 Z"/>
<circle cx="2.1" cy="-3.6" r="1.1"/><path d="M1.2 -2.2 h1.8 l1.1 4.2 h-1.2 v3 h-1.6 v-3 h-1.2 Z"/>
<rect x="-0.25" y="-4.6" width="0.5" height="9.4"/>
</g>
<text x="777.7" y="873.8" font-size="6.6" fill="#1a1718" font-weight="bold" text-anchor="middle" stroke="#1a1718" stroke-width="0.45" stroke-linejoin="round">WC</text>
<circle cx="798" cy="873.5" r="8.2" fill="#1a1718"/>
<circle cx="798" cy="873.5" r="6.56" fill="none" stroke="#fff" stroke-width="0.74"/>
<g transform="translate(798 873.5) scale(1.02) rotate(-25)" fill="#fff">
<rect x="-4.2" y="-1.6" width="6.4" height="3.4" rx="0.6"/><path d="M2.2 -0.9 l2.4 -1.3 v4.6 l-2.4 -1.3 Z"/><rect x="-2.6" y="1.8" width="1" height="2.4"/><rect x="0.2" y="1.8" width="1" height="2.4"/>
</g>
<text x="793" y="888.7" font-size="3.6" fill="#2b2b3b" font-weight="bold" textLength="40.8" lengthAdjust="spacingAndGlyphs">D SEMİNER SALONU</text>
<text x="793" y="893.5" font-size="3.4" fill="#4c5a78" font-style="italic" textLength="32.2" lengthAdjust="spacingAndGlyphs">D SEMINAR ROOM</text>
<circle cx="570" cy="1105.6" r="8.4" fill="#1a1718"/>
<circle cx="570" cy="1105.6" r="6.72" fill="none" stroke="#fff" stroke-width="0.76"/>
<g transform="translate(570 1105.6) scale(1.05)" fill="#fff">
<circle cx="-2.1" cy="-3.6" r="1.1"/><path d="M-3.4 -2.2 h2.6 l0.5 3.6 h-0.9 v3.6 h-1.8 v-3.6 h-0.9 Z"/>
<circle cx="2.1" cy="-3.6" r="1.1"/><path d="M1.2 -2.2 h1.8 l1.1 4.2 h-1.2 v3 h-1.6 v-3 h-1.2 Z"/>
<rect x="-0.25" y="-4.6" width="0.5" height="9.4"/>
</g>
<text x="570" y="1120.3" font-size="6.6" fill="#1a1718" font-weight="bold" text-anchor="middle" stroke="#1a1718" stroke-width="0.45" stroke-linejoin="round">WC</text>
<circle cx="437" cy="1182.5" r="8.4" fill="#1a1718"/>
<circle cx="437" cy="1182.5" r="6.72" fill="none" stroke="#fff" stroke-width="0.76"/>
<g transform="translate(437 1182.5) scale(1.05)" fill="#fff">
<circle cx="-2.1" cy="-3.6" r="1.1"/><path d="M-3.4 -2.2 h2.6 l0.5 3.6 h-0.9 v3.6 h-1.8 v-3.6 h-0.9 Z"/>
<circle cx="2.1" cy="-3.6" r="1.1"/><path d="M1.2 -2.2 h1.8 l1.1 4.2 h-1.2 v3 h-1.6 v-3 h-1.2 Z"/>
<rect x="-0.25" y="-4.6" width="0.5" height="9.4"/>
</g>
<text x="437" y="1197.2" font-size="6.6" fill="#1a1718" font-weight="bold" text-anchor="middle" stroke="#1a1718" stroke-width="0.45" stroke-linejoin="round">WC</text>
<circle cx="462" cy="1193" r="7.4" fill="#1a1718"/>
<circle cx="462" cy="1193" r="5.92" fill="none" stroke="#fff" stroke-width="0.67"/>
<g transform="translate(462 1193) scale(0.93)" fill="#fff">
<path d="M-3.2 -4.6 h0.6 v2.6 h0.6 v-2.6 h0.6 v2.6 h0.6 v-2.6 h0.6 v3.4 q0 1 -1 1.2 v4.8 h-1.2 v-4.8 q-1 -0.2 -1 -1.2 Z"/>
<path d="M1.4 -4.8 q2.2 0.4 2.2 3.6 q0 1.8 -1 2.2 v3.8 h-1.2 Z"/>
</g>
<text x="462" y="1205.58" font-size="3.7" fill="#1a1718" font-weight="bold" text-anchor="middle" textLength="18.5" lengthAdjust="spacingAndGlyphs" stroke="#1a1718" stroke-width="0.3" stroke-linejoin="round">RESTORAN</text>
<text x="462" y="1209.8" font-size="3.4" fill="#1a1718" text-anchor="middle" textLength="19.02" lengthAdjust="spacingAndGlyphs">RESTAURANT</text>
<circle cx="568.5" cy="1233" r="8.4" fill="#1a1718"/>
<circle cx="568.5" cy="1233" r="6.72" fill="none" stroke="#fff" stroke-width="0.76"/>
<g transform="translate(568.5 1233) scale(1.05)" fill="#fff">
<circle cx="-2.1" cy="-3.6" r="1.1"/><path d="M-3.4 -2.2 h2.6 l0.5 3.6 h-0.9 v3.6 h-1.8 v-3.6 h-0.9 Z"/>
<circle cx="2.1" cy="-3.6" r="1.1"/><path d="M1.2 -2.2 h1.8 l1.1 4.2 h-1.2 v3 h-1.6 v-3 h-1.2 Z"/>
<rect x="-0.25" y="-4.6" width="0.5" height="9.4"/>
</g>
<text x="568.5" y="1247.7" font-size="6.6" fill="#1a1718" font-weight="bold" text-anchor="middle" stroke="#1a1718" stroke-width="0.45" stroke-linejoin="round">WC</text>
<circle cx="594" cy="1242" r="7.4" fill="#1a1718"/>
<circle cx="594" cy="1242" r="5.92" fill="none" stroke="#fff" stroke-width="0.67"/>
<g transform="translate(594 1242) scale(0.93)" fill="#fff">
<path d="M-3.2 -4.6 h0.6 v2.6 h0.6 v-2.6 h0.6 v2.6 h0.6 v-2.6 h0.6 v3.4 q0 1 -1 1.2 v4.8 h-1.2 v-4.8 q-1 -0.2 -1 -1.2 Z"/>
<path d="M1.4 -4.8 q2.2 0.4 2.2 3.6 q0 1.8 -1 2.2 v3.8 h-1.2 Z"/>
</g>
<text x="594" y="1254.58" font-size="3.7" fill="#1a1718" font-weight="bold" text-anchor="middle" textLength="18.5" lengthAdjust="spacingAndGlyphs" stroke="#1a1718" stroke-width="0.3" stroke-linejoin="round">RESTORAN</text>
<text x="594" y="1258.8" font-size="3.4" fill="#1a1718" text-anchor="middle" textLength="19.02" lengthAdjust="spacingAndGlyphs">RESTAURANT</text>
<circle cx="621" cy="1248" r="8.4" fill="#1a1718"/>
<circle cx="621" cy="1248" r="6.72" fill="none" stroke="#fff" stroke-width="0.76"/>
<g transform="translate(621 1248) scale(1.05)" fill="#fff">
<circle cx="-2.1" cy="-3.6" r="1.1"/><path d="M-3.4 -2.2 h2.6 l0.5 3.6 h-0.9 v3.6 h-1.8 v-3.6 h-0.9 Z"/>
<circle cx="2.1" cy="-3.6" r="1.1"/><path d="M1.2 -2.2 h1.8 l1.1 4.2 h-1.2 v3 h-1.6 v-3 h-1.2 Z"/>
<rect x="-0.25" y="-4.6" width="0.5" height="9.4"/>
</g>
<text x="621" y="1262.7" font-size="6.6" fill="#1a1718" font-weight="bold" text-anchor="middle" stroke="#1a1718" stroke-width="0.45" stroke-linejoin="round">WC</text>
<circle cx="647.2" cy="1254.5" r="7.4" fill="#1a1718"/>
<circle cx="647.2" cy="1254.5" r="5.92" fill="none" stroke="#fff" stroke-width="0.67"/>
<g transform="translate(647.2 1254.5) scale(0.93)" fill="#fff">
<path d="M-3.2 -4.6 h0.6 v2.6 h0.6 v-2.6 h0.6 v2.6 h0.6 v-2.6 h0.6 v3.4 q0 1 -1 1.2 v4.8 h-1.2 v-4.8 q-1 -0.2 -1 -1.2 Z"/>
<path d="M1.4 -4.8 q2.2 0.4 2.2 3.6 q0 1.8 -1 2.2 v3.8 h-1.2 Z"/>
</g>
<text x="647.2" y="1267.08" font-size="3.7" fill="#1a1718" font-weight="bold" text-anchor="middle" textLength="18.5" lengthAdjust="spacingAndGlyphs" stroke="#1a1718" stroke-width="0.3" stroke-linejoin="round">RESTORAN</text>
<text x="647.2" y="1271.3" font-size="3.4" fill="#1a1718" text-anchor="middle" textLength="19.02" lengthAdjust="spacingAndGlyphs">RESTAURANT</text>
<circle cx="740" cy="1143.75" r="8.4" fill="#5f6044"/>
<circle cx="740" cy="1143.75" r="6.72" fill="none" stroke="#fff" stroke-width="0.76"/>
<g transform="translate(740 1143.75) scale(1.05)" fill="#fff">
<circle cx="-2.1" cy="-3.6" r="1.1"/><path d="M-3.4 -2.2 h2.6 l0.5 3.6 h-0.9 v3.6 h-1.8 v-3.6 h-0.9 Z"/>
<circle cx="2.1" cy="-3.6" r="1.1"/><path d="M1.2 -2.2 h1.8 l1.1 4.2 h-1.2 v3 h-1.6 v-3 h-1.2 Z"/>
<rect x="-0.25" y="-4.6" width="0.5" height="9.4"/>
</g>
<text x="740" y="1158.45" font-size="6.6" fill="#5f6044" font-weight="bold" text-anchor="middle" stroke="#5f6044" stroke-width="0.45" stroke-linejoin="round">WC</text>
<circle cx="763" cy="1276.25" r="8.4" fill="#5f6044"/>
<circle cx="763" cy="1276.25" r="6.72" fill="none" stroke="#fff" stroke-width="0.76"/>
<g transform="translate(763 1276.25) scale(1.05)" fill="#fff">
<circle cx="-2.1" cy="-3.6" r="1.1"/><path d="M-3.4 -2.2 h2.6 l0.5 3.6 h-0.9 v3.6 h-1.8 v-3.6 h-0.9 Z"/>
<circle cx="2.1" cy="-3.6" r="1.1"/><path d="M1.2 -2.2 h1.8 l1.1 4.2 h-1.2 v3 h-1.6 v-3 h-1.2 Z"/>
<rect x="-0.25" y="-4.6" width="0.5" height="9.4"/>
</g>
<text x="763" y="1290.95" font-size="6.6" fill="#5f6044" font-weight="bold" text-anchor="middle" stroke="#5f6044" stroke-width="0.45" stroke-linejoin="round">WC</text>
<circle cx="799.25" cy="1275" r="7.4" fill="#5f6044"/>
<circle cx="799.25" cy="1275" r="5.92" fill="none" stroke="#fff" stroke-width="0.67"/>
<g transform="translate(799.25 1275) scale(0.93)" fill="#fff">
<path d="M-3.2 -4.6 h0.6 v2.6 h0.6 v-2.6 h0.6 v2.6 h0.6 v-2.6 h0.6 v3.4 q0 1 -1 1.2 v4.8 h-1.2 v-4.8 q-1 -0.2 -1 -1.2 Z"/>
<path d="M1.4 -4.8 q2.2 0.4 2.2 3.6 q0 1.8 -1 2.2 v3.8 h-1.2 Z"/>
</g>
<text x="799.25" y="1287.58" font-size="3.7" fill="#5f6044" font-weight="bold" text-anchor="middle" textLength="18.5" lengthAdjust="spacingAndGlyphs" stroke="#5f6044" stroke-width="0.3" stroke-linejoin="round">RESTORAN</text>
<text x="799.25" y="1291.8" font-size="3.4" fill="#5f6044" text-anchor="middle" textLength="19.02" lengthAdjust="spacingAndGlyphs">RESTAURANT</text>
<circle cx="782.6" cy="1028.7" r="8.4" fill="#1a1718"/>
<circle cx="782.6" cy="1028.7" r="6.72" fill="none" stroke="#fff" stroke-width="0.76"/>
<g transform="translate(782.6 1028.7) scale(1.05)" fill="#fff">
<circle cx="-2.1" cy="-3.6" r="1.1"/><path d="M-3.4 -2.2 h2.6 l0.5 3.6 h-0.9 v3.6 h-1.8 v-3.6 h-0.9 Z"/>
<circle cx="2.1" cy="-3.6" r="1.1"/><path d="M1.2 -2.2 h1.8 l1.1 4.2 h-1.2 v3 h-1.6 v-3 h-1.2 Z"/>
<rect x="-0.25" y="-4.6" width="0.5" height="9.4"/>
</g>
<text x="782.6" y="1043.4" font-size="6.6" fill="#1a1718" font-weight="bold" text-anchor="middle" stroke="#1a1718" stroke-width="0.45" stroke-linejoin="round">WC</text>
<circle cx="634.1" cy="1053.2" r="5.6" fill="#1a1718"/>
<circle cx="634.1" cy="1053.2" r="4.48" fill="none" stroke="#fff" stroke-width="0.5"/>
<g transform="translate(634.1 1053.2) scale(0.7)" fill="#fff">
<path d="M-3.2 -4.6 h0.6 v2.6 h0.6 v-2.6 h0.6 v2.6 h0.6 v-2.6 h0.6 v3.4 q0 1 -1 1.2 v4.8 h-1.2 v-4.8 q-1 -0.2 -1 -1.2 Z"/>
<path d="M1.4 -4.8 q2.2 0.4 2.2 3.6 q0 1.8 -1 2.2 v3.8 h-1.2 Z"/>
</g>
<text x="634.1" y="1062.72" font-size="2.8" fill="#1a1718" font-weight="bold" text-anchor="middle" textLength="14" lengthAdjust="spacingAndGlyphs" stroke="#1a1718" stroke-width="0.22" stroke-linejoin="round">RESTORAN</text>
<text x="634.1" y="1065.91" font-size="2.58" fill="#1a1718" text-anchor="middle" textLength="14.39" lengthAdjust="spacingAndGlyphs">RESTAURANT</text>
<circle cx="755" cy="1043.6" r="4.6" fill="#1a1718"/>
<circle cx="755" cy="1043.6" r="3.68" fill="none" stroke="#fff" stroke-width="0.41"/>
<g transform="translate(755 1043.6) scale(0.57)" fill="#fff">
<path d="M-3.2 -4.6 h0.6 v2.6 h0.6 v-2.6 h0.6 v2.6 h0.6 v-2.6 h0.6 v3.4 q0 1 -1 1.2 v4.8 h-1.2 v-4.8 q-1 -0.2 -1 -1.2 Z"/>
<path d="M1.4 -4.8 q2.2 0.4 2.2 3.6 q0 1.8 -1 2.2 v3.8 h-1.2 Z"/>
</g>
<text x="755" y="1051.42" font-size="2.3" fill="#1a1718" font-weight="bold" text-anchor="middle" textLength="11.5" lengthAdjust="spacingAndGlyphs" stroke="#1a1718" stroke-width="0.18" stroke-linejoin="round">RESTORAN</text>
<text x="755" y="1054.04" font-size="2.12" fill="#1a1718" text-anchor="middle" textLength="11.82" lengthAdjust="spacingAndGlyphs">RESTAURANT</text>
<circle cx="552.7" cy="1026.7" r="7.4" fill="#1a1718"/>
<circle cx="552.7" cy="1026.7" r="5.92" fill="none" stroke="#fff" stroke-width="0.67"/>
<g transform="translate(552.7 1026.7) scale(0.93) rotate(-25)" fill="#fff">
<rect x="-4.2" y="-1.6" width="6.4" height="3.4" rx="0.6"/><path d="M2.2 -0.9 l2.4 -1.3 v4.6 l-2.4 -1.3 Z"/><rect x="-2.6" y="1.8" width="1" height="2.4"/><rect x="0.2" y="1.8" width="1" height="2.4"/>
</g>
<text x="561.5" y="1026.2" font-size="3.6" fill="#2b2b3b" font-weight="bold" textLength="40.8" lengthAdjust="spacingAndGlyphs">C SEMİNER SALONU</text>
<text x="561.5" y="1031" font-size="3.4" fill="#4c5a78" font-style="italic" textLength="32.2" lengthAdjust="spacingAndGlyphs">C SEMINAR ROOM</text>
<circle cx="672.6" cy="1061" r="7.4" fill="#1a1718"/>
<circle cx="672.6" cy="1061" r="5.92" fill="none" stroke="#fff" stroke-width="0.67"/>
<g transform="translate(672.6 1061) scale(0.93) rotate(-25)" fill="#fff">
<rect x="-4.2" y="-1.6" width="6.4" height="3.4" rx="0.6"/><path d="M2.2 -0.9 l2.4 -1.3 v4.6 l-2.4 -1.3 Z"/><rect x="-2.6" y="1.8" width="1" height="2.4"/><rect x="0.2" y="1.8" width="1" height="2.4"/>
</g>
<text x="682.4" y="1060.5" font-size="3.6" fill="#2b2b3b" font-weight="bold" textLength="40.8" lengthAdjust="spacingAndGlyphs">B SEMİNER SALONU</text>
<text x="682.4" y="1065.3" font-size="3.4" fill="#4c5a78" font-style="italic" textLength="32.2" lengthAdjust="spacingAndGlyphs">B SEMINAR ROOM</text>
<circle cx="727.8" cy="1074.2" r="7.4" fill="#1a1718"/>
<circle cx="727.8" cy="1074.2" r="5.92" fill="none" stroke="#fff" stroke-width="0.67"/>
<g transform="translate(727.8 1074.2) scale(0.93) rotate(-25)" fill="#fff">
<rect x="-4.2" y="-1.6" width="6.4" height="3.4" rx="0.6"/><path d="M2.2 -0.9 l2.4 -1.3 v4.6 l-2.4 -1.3 Z"/><rect x="-2.6" y="1.8" width="1" height="2.4"/><rect x="0.2" y="1.8" width="1" height="2.4"/>
</g>
<text x="737.5" y="1073.4" font-size="3.6" fill="#2b2b3b" font-weight="bold" textLength="40.8" lengthAdjust="spacingAndGlyphs">A SEMİNER SALONU</text>
<text x="737.5" y="1078.2" font-size="3.4" fill="#4c5a78" font-style="italic" textLength="32.2" lengthAdjust="spacingAndGlyphs">A SEMINAR ROOM</text>
<circle cx="517.3" cy="1016.8" r="6.8" fill="#1a1718"/>
<circle cx="517.3" cy="1016.8" r="5.44" fill="none" stroke="#fff" stroke-width="0.61"/>
<g transform="translate(517.3 1016.8) scale(0.85) rotate(28)" fill="#fff">
<path d="M-4.6 -2.4 q1.6 -0.8 2.6 0.2 q1.6 1.4 4 1.6 q2.6 0.2 2.8 2 v0.8 h-9.4 Z"/><rect x="-4.6" y="2.6" width="9.4" height="0.9"/>
</g>
<text x="504.4" y="1008.5" font-size="3" fill="#111" font-weight="bold" textLength="13.6" lengthAdjust="spacingAndGlyphs" stroke="#111" stroke-width="0.3" stroke-linejoin="round">MERDİVEN</text>
<text x="518.7" y="1008.5" font-size="2.8" fill="#444" textLength="10.4" lengthAdjust="spacingAndGlyphs">/ STAIRS</text>
<circle cx="577" cy="1056.6" r="6.8" fill="#1a1718"/>
<circle cx="577" cy="1056.6" r="5.44" fill="none" stroke="#fff" stroke-width="0.61"/>
<g transform="translate(577 1056.6) scale(0.85) rotate(28)" fill="#fff">
<path d="M-4.6 -2.4 q1.6 -0.8 2.6 0.2 q1.6 1.4 4 1.6 q2.6 0.2 2.8 2 v0.8 h-9.4 Z"/><rect x="-4.6" y="2.6" width="9.4" height="0.9"/>
</g>
<text x="564.1" y="1048.3" font-size="3" fill="#111" font-weight="bold" textLength="13.6" lengthAdjust="spacingAndGlyphs" stroke="#111" stroke-width="0.3" stroke-linejoin="round">MERDİVEN</text>
<text x="578.4" y="1048.3" font-size="2.8" fill="#444" textLength="10.4" lengthAdjust="spacingAndGlyphs">/ STAIRS</text>
<circle cx="734.7" cy="1097" r="6.8" fill="#1a1718"/>
<circle cx="734.7" cy="1097" r="5.44" fill="none" stroke="#fff" stroke-width="0.61"/>
<g transform="translate(734.7 1097) scale(0.85) rotate(28)" fill="#fff">
<path d="M-4.6 -2.4 q1.6 -0.8 2.6 0.2 q1.6 1.4 4 1.6 q2.6 0.2 2.8 2 v0.8 h-9.4 Z"/><rect x="-4.6" y="2.6" width="9.4" height="0.9"/>
</g>
<text x="721.8" y="1088.7" font-size="3" fill="#111" font-weight="bold" textLength="13.6" lengthAdjust="spacingAndGlyphs" stroke="#111" stroke-width="0.3" stroke-linejoin="round">MERDİVEN</text>
<text x="736.1" y="1088.7" font-size="2.8" fill="#444" textLength="10.4" lengthAdjust="spacingAndGlyphs">/ STAIRS</text>
<circle cx="546.3" cy="1129.8" r="6.8" fill="#1a1718"/>
<circle cx="546.3" cy="1129.8" r="5.44" fill="none" stroke="#fff" stroke-width="0.61"/>
<g transform="translate(546.3 1129.8) scale(0.85) rotate(28)" fill="#fff">
<path d="M-4.6 -2.4 q1.6 -0.8 2.6 0.2 q1.6 1.4 4 1.6 q2.6 0.2 2.8 2 v0.8 h-9.4 Z"/><rect x="-4.6" y="2.6" width="9.4" height="0.9"/>
</g>
<text x="533.4" y="1121.5" font-size="3" fill="#111" font-weight="bold" textLength="13.6" lengthAdjust="spacingAndGlyphs" stroke="#111" stroke-width="0.3" stroke-linejoin="round">MERDİVEN</text>
<text x="547.7" y="1121.5" font-size="2.8" fill="#444" textLength="10.4" lengthAdjust="spacingAndGlyphs">/ STAIRS</text>
<circle cx="722.6" cy="1176.1" r="6.8" fill="#1a1718"/>
<circle cx="722.6" cy="1176.1" r="5.44" fill="none" stroke="#fff" stroke-width="0.61"/>
<g transform="translate(722.6 1176.1) scale(0.85) rotate(28)" fill="#fff">
<path d="M-4.6 -2.4 q1.6 -0.8 2.6 0.2 q1.6 1.4 4 1.6 q2.6 0.2 2.8 2 v0.8 h-9.4 Z"/><rect x="-4.6" y="2.6" width="9.4" height="0.9"/>
</g>
<text x="709.7" y="1167.8" font-size="3" fill="#111" font-weight="bold" textLength="13.6" lengthAdjust="spacingAndGlyphs" stroke="#111" stroke-width="0.3" stroke-linejoin="round">MERDİVEN</text>
<text x="724" y="1167.8" font-size="2.8" fill="#444" textLength="10.4" lengthAdjust="spacingAndGlyphs">/ STAIRS</text>
<g transform="translate(559.2 911) rotate(0) scale(1.45 1.45)">
<circle r="0.1" fill="#fff"/>
<path d="M-2.6 -6 L-5.6 -1.8 H-3.9 V3.2 H-1.3 V-1.8 H0.4 Z" fill="#0aa14b"/><rect x="-3.9" y="4" width="2.6" height="0.9" fill="#0aa14b"/><rect x="-3.9" y="5.5" width="2.6" height="0.8" fill="#0aa14b"/>
<path d="M2.9 6 L5.9 1.8 H4.2 V-3.2 H1.6 V1.8 H-0.1 Z" fill="#e31f26"/><rect x="1.6" y="-4.9" width="2.6" height="0.9" fill="#e31f26"/><rect x="1.6" y="-6.3" width="2.6" height="0.8" fill="#e31f26"/>
</g>
<g transform="translate(473 936.5) rotate(40) scale(1 1)">
<circle r="8.6" fill="#fff"/>
<path d="M-2.6 -6 L-5.6 -1.8 H-3.9 V3.2 H-1.3 V-1.8 H0.4 Z" fill="#0aa14b"/><rect x="-3.9" y="4" width="2.6" height="0.9" fill="#0aa14b"/><rect x="-3.9" y="5.5" width="2.6" height="0.8" fill="#0aa14b"/>
<path d="M2.9 6 L5.9 1.8 H4.2 V-3.2 H1.6 V1.8 H-0.1 Z" fill="#e31f26"/><rect x="1.6" y="-4.9" width="2.6" height="0.9" fill="#e31f26"/><rect x="1.6" y="-6.3" width="2.6" height="0.8" fill="#e31f26"/>
</g>
<g transform="translate(486 952.3) rotate(40) scale(1 1)">
<circle r="8.6" fill="#fff"/>
<path d="M-2.6 -6 L-5.6 -1.8 H-3.9 V3.2 H-1.3 V-1.8 H0.4 Z" fill="#0aa14b"/><rect x="-3.9" y="4" width="2.6" height="0.9" fill="#0aa14b"/><rect x="-3.9" y="5.5" width="2.6" height="0.8" fill="#0aa14b"/>
<path d="M2.9 6 L5.9 1.8 H4.2 V-3.2 H1.6 V1.8 H-0.1 Z" fill="#e31f26"/><rect x="1.6" y="-4.9" width="2.6" height="0.9" fill="#e31f26"/><rect x="1.6" y="-6.3" width="2.6" height="0.8" fill="#e31f26"/>
</g>
<g transform="translate(521.8 990) rotate(42) scale(1 1)">
<circle r="8.6" fill="#fff"/>
<path d="M-2.6 -6 L-5.6 -1.8 H-3.9 V3.2 H-1.3 V-1.8 H0.4 Z" fill="#0aa14b"/><rect x="-3.9" y="4" width="2.6" height="0.9" fill="#0aa14b"/><rect x="-3.9" y="5.5" width="2.6" height="0.8" fill="#0aa14b"/>
<path d="M2.9 6 L5.9 1.8 H4.2 V-3.2 H1.6 V1.8 H-0.1 Z" fill="#e31f26"/><rect x="1.6" y="-4.9" width="2.6" height="0.9" fill="#e31f26"/><rect x="1.6" y="-6.3" width="2.6" height="0.8" fill="#e31f26"/>
</g>
<g transform="translate(603.6 988) rotate(25) scale(1 1)">
<circle r="8.6" fill="#fff"/>
<path d="M-2.6 -6 L-5.6 -1.8 H-3.9 V3.2 H-1.3 V-1.8 H0.4 Z" fill="#0aa14b"/><rect x="-3.9" y="4" width="2.6" height="0.9" fill="#0aa14b"/><rect x="-3.9" y="5.5" width="2.6" height="0.8" fill="#0aa14b"/>
<path d="M2.9 6 L5.9 1.8 H4.2 V-3.2 H1.6 V1.8 H-0.1 Z" fill="#e31f26"/><rect x="1.6" y="-4.9" width="2.6" height="0.9" fill="#e31f26"/><rect x="1.6" y="-6.3" width="2.6" height="0.8" fill="#e31f26"/>
</g>
<g transform="translate(442.7 964) rotate(-140) scale(1 1)">
<circle r="8.6" fill="#fff"/>
<path d="M-2.6 -6 L-5.6 -1.8 H-3.9 V3.2 H-1.3 V-1.8 H0.4 Z" fill="#0aa14b"/><rect x="-3.9" y="4" width="2.6" height="0.9" fill="#0aa14b"/><rect x="-3.9" y="5.5" width="2.6" height="0.8" fill="#0aa14b"/>
<path d="M2.9 6 L5.9 1.8 H4.2 V-3.2 H1.6 V1.8 H-0.1 Z" fill="#e31f26"/><rect x="1.6" y="-4.9" width="2.6" height="0.9" fill="#e31f26"/><rect x="1.6" y="-6.3" width="2.6" height="0.8" fill="#e31f26"/>
</g>
<g transform="translate(455.8 979.8) rotate(-140) scale(1 1)">
<circle r="8.6" fill="#fff"/>
<path d="M-2.6 -6 L-5.6 -1.8 H-3.9 V3.2 H-1.3 V-1.8 H0.4 Z" fill="#0aa14b"/><rect x="-3.9" y="4" width="2.6" height="0.9" fill="#0aa14b"/><rect x="-3.9" y="5.5" width="2.6" height="0.8" fill="#0aa14b"/>
<path d="M2.9 6 L5.9 1.8 H4.2 V-3.2 H1.6 V1.8 H-0.1 Z" fill="#e31f26"/><rect x="1.6" y="-4.9" width="2.6" height="0.9" fill="#e31f26"/><rect x="1.6" y="-6.3" width="2.6" height="0.8" fill="#e31f26"/>
</g>
<g transform="translate(490.8 1019) rotate(-140) scale(1 1)">
<circle r="8.6" fill="#fff"/>
<path d="M-2.6 -6 L-5.6 -1.8 H-3.9 V3.2 H-1.3 V-1.8 H0.4 Z" fill="#0aa14b"/><rect x="-3.9" y="4" width="2.6" height="0.9" fill="#0aa14b"/><rect x="-3.9" y="5.5" width="2.6" height="0.8" fill="#0aa14b"/>
<path d="M2.9 6 L5.9 1.8 H4.2 V-3.2 H1.6 V1.8 H-0.1 Z" fill="#e31f26"/><rect x="1.6" y="-4.9" width="2.6" height="0.9" fill="#e31f26"/><rect x="1.6" y="-6.3" width="2.6" height="0.8" fill="#e31f26"/>
</g>
<g transform="translate(521 1039.6) rotate(30) scale(1 -1)">
<circle r="9" fill="#fff"/>
<path d="M-2.6 -6 L-5.6 -1.8 H-3.9 V3.2 H-1.3 V-1.8 H0.4 Z" fill="#0aa14b"/><rect x="-3.9" y="4" width="2.6" height="0.9" fill="#0aa14b"/><rect x="-3.9" y="5.5" width="2.6" height="0.8" fill="#0aa14b"/>
<path d="M2.9 6 L5.9 1.8 H4.2 V-3.2 H1.6 V1.8 H-0.1 Z" fill="#e31f26"/><rect x="1.6" y="-4.9" width="2.6" height="0.9" fill="#e31f26"/><rect x="1.6" y="-6.3" width="2.6" height="0.8" fill="#e31f26"/>
</g>
<g transform="translate(548 1054) rotate(27) scale(1 -1)">
<circle r="9" fill="#fff"/>
<path d="M-2.6 -6 L-5.6 -1.8 H-3.9 V3.2 H-1.3 V-1.8 H0.4 Z" fill="#0aa14b"/><rect x="-3.9" y="4" width="2.6" height="0.9" fill="#0aa14b"/><rect x="-3.9" y="5.5" width="2.6" height="0.8" fill="#0aa14b"/>
<path d="M2.9 6 L5.9 1.8 H4.2 V-3.2 H1.6 V1.8 H-0.1 Z" fill="#e31f26"/><rect x="1.6" y="-4.9" width="2.6" height="0.9" fill="#e31f26"/><rect x="1.6" y="-6.3" width="2.6" height="0.8" fill="#e31f26"/>
</g>
<g transform="translate(613.3 1080.2) rotate(20) scale(1 -1)">
<circle r="9" fill="#fff"/>
<path d="M-2.6 -6 L-5.6 -1.8 H-3.9 V3.2 H-1.3 V-1.8 H0.4 Z" fill="#0aa14b"/><rect x="-3.9" y="4" width="2.6" height="0.9" fill="#0aa14b"/><rect x="-3.9" y="5.5" width="2.6" height="0.8" fill="#0aa14b"/>
<path d="M2.9 6 L5.9 1.8 H4.2 V-3.2 H1.6 V1.8 H-0.1 Z" fill="#e31f26"/><rect x="1.6" y="-4.9" width="2.6" height="0.9" fill="#e31f26"/><rect x="1.6" y="-6.3" width="2.6" height="0.8" fill="#e31f26"/>
</g>
<g transform="translate(656 1092) rotate(17) scale(1 -1)">
<circle r="9" fill="#fff"/>
<path d="M-2.6 -6 L-5.6 -1.8 H-3.9 V3.2 H-1.3 V-1.8 H0.4 Z" fill="#0aa14b"/><rect x="-3.9" y="4" width="2.6" height="0.9" fill="#0aa14b"/><rect x="-3.9" y="5.5" width="2.6" height="0.8" fill="#0aa14b"/>
<path d="M2.9 6 L5.9 1.8 H4.2 V-3.2 H1.6 V1.8 H-0.1 Z" fill="#e31f26"/><rect x="1.6" y="-4.9" width="2.6" height="0.9" fill="#e31f26"/><rect x="1.6" y="-6.3" width="2.6" height="0.8" fill="#e31f26"/>
</g>
<g transform="translate(700.4 1105) rotate(13) scale(1 -1)">
<circle r="9" fill="#fff"/>
<path d="M-2.6 -6 L-5.6 -1.8 H-3.9 V3.2 H-1.3 V-1.8 H0.4 Z" fill="#0aa14b"/><rect x="-3.9" y="4" width="2.6" height="0.9" fill="#0aa14b"/><rect x="-3.9" y="5.5" width="2.6" height="0.8" fill="#0aa14b"/>
<path d="M2.9 6 L5.9 1.8 H4.2 V-3.2 H1.6 V1.8 H-0.1 Z" fill="#e31f26"/><rect x="1.6" y="-4.9" width="2.6" height="0.9" fill="#e31f26"/><rect x="1.6" y="-6.3" width="2.6" height="0.8" fill="#e31f26"/>
</g>
<g transform="translate(765.4 1111) rotate(0) scale(1.05 -1.05)">
<circle r="9.5" fill="#fff6d6"/>
<path d="M-2.6 -6 L-5.6 -1.8 H-3.9 V3.2 H-1.3 V-1.8 H0.4 Z" fill="#0aa14b"/><rect x="-3.9" y="4" width="2.6" height="0.9" fill="#0aa14b"/><rect x="-3.9" y="5.5" width="2.6" height="0.8" fill="#0aa14b"/>
<path d="M2.9 6 L5.9 1.8 H4.2 V-3.2 H1.6 V1.8 H-0.1 Z" fill="#e31f26"/><rect x="1.6" y="-4.9" width="2.6" height="0.9" fill="#e31f26"/><rect x="1.6" y="-6.3" width="2.6" height="0.8" fill="#e31f26"/>
</g>
<g transform="translate(798.4 1111) rotate(0) scale(1.05 -1.05)">
<circle r="9.5" fill="#fff6d6"/>
<path d="M-2.6 -6 L-5.6 -1.8 H-3.9 V3.2 H-1.3 V-1.8 H0.4 Z" fill="#0aa14b"/><rect x="-3.9" y="4" width="2.6" height="0.9" fill="#0aa14b"/><rect x="-3.9" y="5.5" width="2.6" height="0.8" fill="#0aa14b"/>
<path d="M2.9 6 L5.9 1.8 H4.2 V-3.2 H1.6 V1.8 H-0.1 Z" fill="#e31f26"/><rect x="1.6" y="-4.9" width="2.6" height="0.9" fill="#e31f26"/><rect x="1.6" y="-6.3" width="2.6" height="0.8" fill="#e31f26"/>
</g>
<g transform="translate(558.5 890.6) rotate(0)">
<rect x="-19.25" y="-6.2" width="38.5" height="12.4" fill="#e31f26"/>
<text x="0" y="-0.7" font-size="3.9" fill="#fff" font-weight="bold" text-anchor="middle" textLength="30.8" lengthAdjust="spacingAndGlyphs" stroke="#fff" stroke-width="0.25" stroke-linejoin="round">AKREDİTASYON</text>
<text x="0" y="3.9" font-size="3.9" fill="#fff" font-weight="bold" text-anchor="middle" textLength="30.8" lengthAdjust="spacingAndGlyphs" stroke="#fff" stroke-width="0.25" stroke-linejoin="round">ACCREDITATION</text>
</g>
<g transform="translate(445.8 938.2) rotate(-39)">
<rect x="-19" y="-5.35" width="38" height="10.7" fill="#e31f26"/>
<text x="0" y="-0.7" font-size="3.9" fill="#fff" font-weight="bold" text-anchor="middle" textLength="30.4" lengthAdjust="spacingAndGlyphs" stroke="#fff" stroke-width="0.25" stroke-linejoin="round">AKREDİTASYON</text>
<text x="0" y="3.9" font-size="3.9" fill="#fff" font-weight="bold" text-anchor="middle" textLength="30.4" lengthAdjust="spacingAndGlyphs" stroke="#fff" stroke-width="0.25" stroke-linejoin="round">ACCREDITATION</text>
</g>
<g transform="translate(354.8 1308.4) rotate(30)">
<rect x="-19.15" y="-5.75" width="38.3" height="11.5" fill="#e31f26"/>
<text x="0" y="-0.7" font-size="3.9" fill="#fff" font-weight="bold" text-anchor="middle" textLength="30.64" lengthAdjust="spacingAndGlyphs" stroke="#fff" stroke-width="0.25" stroke-linejoin="round">AKREDİTASYON</text>
<text x="0" y="3.9" font-size="3.9" fill="#fff" font-weight="bold" text-anchor="middle" textLength="30.64" lengthAdjust="spacingAndGlyphs" stroke="#fff" stroke-width="0.25" stroke-linejoin="round">ACCREDITATION</text>
</g>
<g transform="translate(548.5 1385.5) rotate(15)">
<rect x="-19" y="-5.75" width="38" height="11.5" fill="#e31f26"/>
<text x="0" y="-0.7" font-size="3.9" fill="#fff" font-weight="bold" text-anchor="middle" textLength="30.4" lengthAdjust="spacingAndGlyphs" stroke="#fff" stroke-width="0.25" stroke-linejoin="round">AKREDİTASYON</text>
<text x="0" y="3.9" font-size="3.9" fill="#fff" font-weight="bold" text-anchor="middle" textLength="30.4" lengthAdjust="spacingAndGlyphs" stroke="#fff" stroke-width="0.25" stroke-linejoin="round">ACCREDITATION</text>
</g>
<g transform="translate(861.5 1104.3) rotate(0)">
<rect x="-15.5" y="-6.2" width="31" height="12.4" fill="#e31f26"/>
<text x="0" y="-0.7" font-size="3.9" fill="#fff" font-weight="bold" text-anchor="middle" textLength="24.8" lengthAdjust="spacingAndGlyphs" stroke="#fff" stroke-width="0.25" stroke-linejoin="round">AKREDİTASYON</text>
<text x="0" y="3.9" font-size="3.9" fill="#fff" font-weight="bold" text-anchor="middle" textLength="24.8" lengthAdjust="spacingAndGlyphs" stroke="#fff" stroke-width="0.25" stroke-linejoin="round">ACCREDITATION</text>
</g>
<g transform="translate(838.2 1331.2) rotate(-90)">
<rect x="-19.35" y="-6.2" width="38.7" height="12.4" fill="#e31f26"/>
<text x="0" y="-0.7" font-size="3.9" fill="#fff" font-weight="bold" text-anchor="middle" textLength="30.96" lengthAdjust="spacingAndGlyphs" stroke="#fff" stroke-width="0.25" stroke-linejoin="round">AKREDİTASYON</text>
<text x="0" y="3.9" font-size="3.9" fill="#fff" font-weight="bold" text-anchor="middle" textLength="30.96" lengthAdjust="spacingAndGlyphs" stroke="#fff" stroke-width="0.25" stroke-linejoin="round">ACCREDITATION</text>
</g>
<rect x="583" y="1000.1" width="40.6" height="13.4" fill="#fff200"/>
<text x="603.3" y="1011.4" font-size="13.2" fill="#111" font-weight="bold" text-anchor="middle" textLength="24.5" lengthAdjust="spacingAndGlyphs">VIP</text>
<line x1="811.96" y1="947.58" x2="790.88" y2="968.8" stroke="#fdb913" stroke-width="1.96"/>
<line x1="791.18" y1="957.15" x2="821.37" y2="957.15" stroke="#ee3342" stroke-width="2.18"/>
<line x1="791.04" y1="945.62" x2="812.28" y2="966.7" stroke="#2490d8" stroke-width="2.18"/>
<line x1="810.08" y1="938.9" x2="798.63" y2="966.43" stroke="#0db14b" stroke-width="2.23"/>
<line x1="799.83" y1="948.02" x2="808.39" y2="976.58" stroke="#3dbdb4" stroke-width="1.96"/>
<circle cx="802.6" cy="957.1" r="1.1" fill="#fff"/>
<text x="817" y="974.3" font-size="13.4" fill="#3c3a63" textLength="24.3" lengthAdjust="spacingAndGlyphs">fuar</text>
<text x="841.6" y="974.3" font-size="13.4" fill="#2d2a55" font-weight="bold" textLength="32.4" lengthAdjust="spacingAndGlyphs">izmir</text>
<text x="488.8" y="981.6" font-size="5.2" fill="#1d2750" font-weight="bold" text-anchor="middle" textLength="39.5" lengthAdjust="spacingAndGlyphs" stroke="#1d2750" stroke-width="0.25" stroke-linejoin="round">FUAR SOKAĞI</text>
<text x="488.4" y="988.8" font-size="5.2" fill="#1d2750" font-weight="bold" font-style="italic" text-anchor="middle" textLength="18.5" lengthAdjust="spacingAndGlyphs" stroke="#1d2750" stroke-width="0.25" stroke-linejoin="round">FOYER</text>
<clipPath id="holeclip"><circle cx="825.3" cy="1046.5" r="23"/></clipPath>
<text x="786" y="1072.6" font-size="10.6" fill="#1d2750" font-weight="bold" textLength="76" lengthAdjust="spacingAndGlyphs" stroke="#1d2750" stroke-width="0.4" stroke-linejoin="round" clip-path="url(#holeclip)">FUAR SOKAĞI</text>
<text x="874.5" y="1021" font-size="7.6" fill="#111" font-weight="bold" text-anchor="middle" textLength="20" lengthAdjust="spacingAndGlyphs" stroke="#111" stroke-width="0.25" stroke-linejoin="round">ÇIKIŞ</text>
<text x="874.5" y="1028.8" font-size="7.6" fill="#111" font-weight="bold" font-style="italic" text-anchor="middle" textLength="15.2" lengthAdjust="spacingAndGlyphs" stroke="#111" stroke-width="0.25" stroke-linejoin="round">EXIT</text>
<text x="904.6" y="1056.9" font-size="7.6" fill="#111" font-weight="bold" text-anchor="middle" textLength="39.3" lengthAdjust="spacingAndGlyphs" stroke="#111" stroke-width="0.25" stroke-linejoin="round">ANA GİRİŞ</text>
<text x="903.6" y="1065.5" font-size="7.6" fill="#111" font-weight="bold" font-style="italic" text-anchor="middle" textLength="62" lengthAdjust="spacingAndGlyphs" stroke="#111" stroke-width="0.25" stroke-linejoin="round">MAIN ENTRANCE</text>
<circle cx="870" cy="1079.8" r="7.6" fill="#fff"/>
<g transform="translate(876.5 1079.8) rotate(180)" fill="#0aa14b">
<rect x="0" y="-1.3" width="0.9" height="2.6"/>
<rect x="1.6" y="-1.3" width="0.9" height="2.6"/>
<rect x="3.2" y="-1.3" width="0.9" height="2.6"/>
<path d="M4.8 -1.3 H8.9 V-2.7 L13.5 0 L8.9 2.7 V1.3 H4.8 Z"/>
</g>
<circle cx="870.5" cy="1052" r="7" fill="#fff"/>
<text x="903.8" y="1172.4" font-size="8.6" fill="#6b6238" font-weight="bold" text-anchor="middle" textLength="36.5" lengthAdjust="spacingAndGlyphs" transform="rotate(-90 903.8 1172.4)">YERALTI</text>
<text x="914" y="1172.4" font-size="8.6" fill="#6b6238" font-weight="bold" text-anchor="middle" textLength="39.5" lengthAdjust="spacingAndGlyphs" transform="rotate(-90 914 1172.4)">OTOPARK</text>
<g transform="translate(947.5 1163.75) rotate(180)" fill="#0aa14b">
<rect x="0" y="-2.5" width="1.6" height="5"/>
<rect x="2.7" y="-2.5" width="1.6" height="5"/>
<rect x="5.4" y="-2.5" width="1.6" height="5"/>
<path d="M8.1 -2.5 H17.75 V-5.25 L26.75 0 L17.75 5.25 V2.5 H8.1 Z"/>
</g>
<g transform="translate(919.5 1181.25) rotate(0)" fill="#e31f26">
<rect x="0" y="-2.5" width="1.6" height="5"/>
<rect x="2.7" y="-2.5" width="1.6" height="5"/>
<rect x="5.4" y="-2.5" width="1.6" height="5"/>
<path d="M8.1 -2.5 H16.5 V-5.25 L25.5 0 L16.5 5.25 V2.5 H8.1 Z"/>
</g>
<g transform="translate(1096.5 1186) rotate(180)" fill="#e31f26">
<rect x="0" y="-2.3" width="1.4" height="4.6"/>
<rect x="2.4" y="-2.3" width="1.4" height="4.6"/>
<rect x="4.8" y="-2.3" width="1.4" height="4.6"/>
<path d="M7.2 -2.3 H13.9 V-4.7 L21.5 0 L13.9 4.7 V2.3 H7.2 Z"/>
</g>
<g transform="translate(1074 1200) rotate(0)" fill="#0aa14b">
<rect x="0" y="-2.3" width="1.4" height="4.6"/>
<rect x="2.4" y="-2.3" width="1.4" height="4.6"/>
<rect x="4.8" y="-2.3" width="1.4" height="4.6"/>
<path d="M7.2 -2.3 H13.9 V-4.7 L21.5 0 L13.9 4.7 V2.3 H7.2 Z"/>
</g>
<g transform="translate(1083.75 1085) scale(1.02 1)">
<path d="M5 0 H27 Q32 0 32 5 V30 Q32 33.5 28.5 33.5 H3.5 Q0 33.5 0 30 V5 Q0 0 5 0 Z" fill="#111"/>
<rect x="3.6" y="6.4" width="24.8" height="13.6" rx="1.6" fill="#fff"/>
<rect x="9.5" y="2.2" width="13" height="2" rx="1" fill="#fff"/>
<circle cx="7" cy="26.2" r="2.9" fill="#fff"/><circle cx="25" cy="26.2" r="2.9" fill="#fff"/>
<rect x="3" y="33" width="6.6" height="7" rx="1.6" fill="#111"/><rect x="22.4" y="33" width="6.6" height="7" rx="1.6" fill="#111"/>
</g>
<g transform="translate(1040.75 1217.5) scale(0.92 0.91)">
<path d="M5 0 H27 Q32 0 32 5 V30 Q32 33.5 28.5 33.5 H3.5 Q0 33.5 0 30 V5 Q0 0 5 0 Z" fill="#111"/>
<rect x="3.6" y="6.4" width="24.8" height="13.6" rx="1.6" fill="#fff"/>
<rect x="9.5" y="2.2" width="13" height="2" rx="1" fill="#fff"/>
<circle cx="7" cy="26.2" r="2.9" fill="#fff"/><circle cx="25" cy="26.2" r="2.9" fill="#fff"/>
<rect x="3" y="33" width="6.6" height="7" rx="1.6" fill="#111"/><rect x="22.4" y="33" width="6.6" height="7" rx="1.6" fill="#111"/>
</g>
<text x="1099.4" y="1137" font-size="8.4" fill="#111" font-weight="bold" text-anchor="middle" textLength="88.5" lengthAdjust="spacingAndGlyphs" stroke="#111" stroke-width="0.2" stroke-linejoin="round">ÜCRETSİZ SERVİSLER</text>
<text x="1099.6" y="1148.9" font-size="8.8" fill="#111" font-style="italic" text-anchor="middle" textLength="90.5" lengthAdjust="spacingAndGlyphs">FREE SHUTTLE SERVICES</text>
<text x="1133.75" y="1192" font-size="12.8" fill="#111" font-weight="bold" text-anchor="middle" textLength="33" lengthAdjust="spacingAndGlyphs">AÇIK</text>
<text x="1133.75" y="1207.5" font-size="12.8" fill="#111" font-weight="bold" text-anchor="middle" textLength="67.5" lengthAdjust="spacingAndGlyphs">OTOPARK</text>
<text x="1053.5" y="1273.75" font-size="16" fill="#111" font-weight="bold" text-anchor="middle" textLength="68" lengthAdjust="spacingAndGlyphs">OTOBÜS</text>
<text x="1053.5" y="1291.25" font-size="16" fill="#111" font-weight="bold" text-anchor="middle" textLength="62.5" lengthAdjust="spacingAndGlyphs">DURAĞI</text>
<text x="770.5" y="600" font-size="18" fill="#111" text-anchor="middle">çevreyolu</text>
<text x="770.5" y="620.4" font-size="18" fill="#e1251b" text-anchor="middle">ÇEŞME</text>
<text x="770.5" y="640.8" font-size="18" fill="#e1251b" text-anchor="middle">ŞEHİR MERKEZİ</text>
<text x="839.5" y="712.3" font-size="17.1" fill="#111" text-anchor="middle">çevreyolu</text>
<text x="839.5" y="731.7" font-size="17.1" fill="#111" text-anchor="middle">fuarizmir girişi</text>
<text x="1035" y="646.3" font-size="17.1" fill="#111" text-anchor="middle">çevreyolu</text>
<text x="1035" y="666.2" font-size="17.1" fill="#111" text-anchor="middle">fuarizmir girişi</text>
<text x="1220" y="630.8" font-size="17.1" fill="#111" text-anchor="middle">çevreyolu</text>
<text x="1220" y="650.1" font-size="17.1" fill="#111" text-anchor="middle">fuarizmir çıkışı</text>
<text x="1332.5" y="687" font-size="17.1" fill="#111" text-anchor="middle">şehir merkezi</text>
<text x="1332.5" y="706.7" font-size="17.1" fill="#111" text-anchor="middle">fuarizmir girişi</text>
<text x="1338" y="797.5" font-size="17.1" fill="#111" text-anchor="middle">şehir merkezi</text>
<text x="1338" y="817.2" font-size="17.1" fill="#111" text-anchor="middle">fuarizmir çıkışı</text>
<text x="1344.5" y="1058.6" font-size="17.7" fill="#111" text-anchor="middle">çevreyolu</text>
<text x="1344.5" y="1079.2" font-size="17.7" fill="#e1251b" text-anchor="middle">ANKARA</text>
<text x="1344.5" y="1099.8" font-size="17.7" fill="#e1251b" text-anchor="middle">İSTANBUL</text>
<text x="1344.5" y="1120.4" font-size="17.7" fill="#e1251b" text-anchor="middle">AYDIN</text>
<g transform="translate(898.75 645.2) rotate(-142.28)" fill="#fff200" stroke="#231f20" stroke-width="1.1" stroke-linejoin="miter">
<rect x="0" y="-4.3" width="4.8" height="8.6"/>
<rect x="6.8" y="-4.3" width="4.8" height="8.6"/>
<path d="M13.6 -4.3 H32.63 V-10.25 L61.63 0 L32.63 10.25 V4.3 H13.6 Z"/>
</g>
<g transform="translate(1335.3 995.2) rotate(38.11)" fill="#fff200" stroke="#231f20" stroke-width="1.1" stroke-linejoin="miter">
<rect x="0" y="-4.3" width="4.8" height="8.6"/>
<rect x="6.8" y="-4.3" width="4.8" height="8.6"/>
<path d="M13.6 -4.3 H32.89 V-10.25 L61.89 0 L32.89 10.25 V4.3 H13.6 Z"/>
</g>
<g transform="translate(952.5 603.75) rotate(148.77)" fill="#e31f26">
<rect x="0" y="-4.5" width="2.6" height="9"/>
<rect x="4.2" y="-4.5" width="2.6" height="9"/>
<rect x="8.4" y="-4.5" width="2.6" height="9"/>
<path d="M12.6 -4.5 H24.78 V-9 L46.78 0 L24.78 9 V4.5 H12.6 Z"/>
</g>
<path d="M967 605 L923.25 632.5 L947.5 652.5 Z" fill="#0aa14b"/>
<g transform="translate(956.25 668.75) rotate(-81.56)" fill="#0aa14b">
<rect x="0" y="-3.5" width="2.2" height="7"/>
<rect x="3.8" y="-3.5" width="2.2" height="7"/>
<rect x="7.6" y="-3.5" width="2.2" height="7"/>
<path d="M11.4 -3.5 H24.17 V-7.5 L39.17 0 L24.17 7.5 V3.5 H11.4 Z"/>
</g>
<g transform="translate(902.5 712.5) rotate(40.98)" fill="#0aa14b">
<rect x="0" y="-5.25" width="2.6" height="10.5"/>
<rect x="4.5" y="-5.25" width="2.6" height="10.5"/>
<rect x="9" y="-5.25" width="2.6" height="10.5"/>
<path d="M13.5 -5.25 H32.95 V-12 L57.95 0 L32.95 12 V5.25 H13.5 Z"/>
</g>
<g transform="translate(1238 710) rotate(-137.06)" fill="#e31f26">
<rect x="0" y="-6" width="3" height="12"/>
<rect x="5" y="-6" width="3" height="12"/>
<rect x="10" y="-6" width="3" height="12"/>
<path d="M15 -6 H35.06 V-12.5 L61.06 0 L35.06 12.5 V6 H15 Z"/>
</g>
<g transform="translate(1365 719.9) rotate(162.8)" fill="#0aa14b">
<rect x="0" y="-5.25" width="3.2" height="10.5"/>
<rect x="5.4" y="-5.25" width="3.2" height="10.5"/>
<rect x="10.8" y="-5.25" width="3.2" height="10.5"/>
<path d="M16.2 -5.25 H36.91 V-11 L62.91 0 L36.91 11 V5.25 H16.2 Z"/>
</g>
<g transform="translate(1312.5 761.4) rotate(-11.48)" fill="#e31f26">
<rect x="0" y="-5.25" width="3.2" height="10.5"/>
<rect x="5.4" y="-5.25" width="3.2" height="10.5"/>
<rect x="10.8" y="-5.25" width="3.2" height="10.5"/>
<path d="M16.2 -5.25 H34.31 V-11 L60.31 0 L34.31 11 V5.25 H16.2 Z"/>
</g>
<defs><filter id="psh" x="-50%" y="-50%" width="220%" height="220%"><feGaussianBlur stdDeviation="4.6"/></filter><clipPath id="pinclip"><path d="M700 960 H960 V1160 H700 Z M825.3 1024 a22.4 22.4 0 1 0 0.01 0 Z" clip-rule="evenodd"/></clipPath></defs>
<g clip-path="url(#pinclip)">
<path d="M825.3 1008.3 C848.5 1008.3 866.6 1026 866.6 1048.2 C866.6 1078 850 1093 825.3 1124.8 C800.6 1093 784 1078 784 1048.2 C784 1026 802.1 1008.3 825.3 1008.3 Z" transform="translate(11 8)" fill="#000" opacity="0.6" filter="url(#psh)"/>
</g>
<path d="M825.3 1008.3 C848.5 1008.3 866.6 1026 866.6 1048.2 C866.6 1078 850 1093 825.3 1124.8 C800.6 1093 784 1078 784 1048.2 C784 1026 802.1 1008.3 825.3 1008.3 Z M825.3 1023.8 a22.6 22.6 0 1 0 0.01 0 Z" fill="#fff" fill-rule="evenodd"/>
<path d="M825.3 1010.6 C847.2 1010.6 864.3 1027.3 864.3 1048.2 C864.3 1076.8 848 1091.5 825.3 1121 C802.6 1091.5 786.3 1076.8 786.3 1048.2 C786.3 1027.3 803.4 1010.6 825.3 1010.6 Z M825.3 1021.2 a25.3 25.3 0 1 0 0.01 0 Z" fill="#d2232a" fill-rule="evenodd"/>
</g>
</g>
<rect x="211.25" y="570.8" width="1186.4" height="936.9" fill="none" stroke="#129fda" stroke-width="3.6"/>
</svg>
</body></html>
